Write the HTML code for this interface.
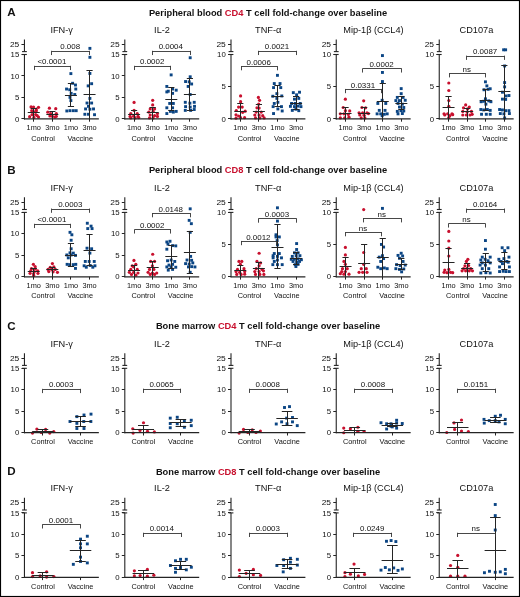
<!DOCTYPE html><html><head><meta charset="utf-8"><style>html,body{margin:0;padding:0;background:#fff;}svg{display:block;will-change:transform;}</style></head><body><svg width="520" height="597" viewBox="0 0 520 597" font-family='"Liberation Sans", sans-serif'>
<rect x="0" y="0" width="520" height="597" fill="#fff"/>
<rect x="0.5" y="0.5" width="519" height="596" fill="none" stroke="#000" stroke-width="1.15"/>
<text x="7.2" y="15.8" font-size="11.6" text-anchor="start" font-weight="bold" fill="#111">A</text>
<text x="268" y="15.5" font-size="9.3" font-weight="bold" text-anchor="middle" fill="#111">Peripheral blood <tspan fill="#c8102e">CD4</tspan> T cell fold-change over baseline</text>
<text x="61.65" y="32.8" font-size="9.2" text-anchor="middle" font-weight="normal" fill="#111">IFN-γ</text>
<line x1="24.45" y1="39.4" x2="24.45" y2="51.6" stroke="#242424" stroke-width="1.1"/>
<line x1="22.05" y1="51.6" x2="26.85" y2="51.6" stroke="#242424" stroke-width="1.1"/>
<line x1="22.05" y1="54.5" x2="26.85" y2="54.5" stroke="#242424" stroke-width="1.1"/>
<line x1="24.45" y1="54.5" x2="24.45" y2="119.4" stroke="#242424" stroke-width="1.1"/>
<line x1="21.45" y1="44.5" x2="24.45" y2="44.5" stroke="#242424" stroke-width="1"/>
<text transform="translate(19.25 47) scale(1.08 1.0)" font-size="7.8" text-anchor="end" font-weight="normal" fill="#111">25</text>
<line x1="21.45" y1="54.5" x2="24.45" y2="54.5" stroke="#242424" stroke-width="1"/>
<text x="19.25" y="57.1" font-size="7.8" text-anchor="end" font-weight="normal" fill="#111">15</text>
<line x1="21.45" y1="75.5" x2="24.45" y2="75.5" stroke="#242424" stroke-width="1"/>
<text x="19.25" y="78.57" font-size="7.8" text-anchor="end" font-weight="normal" fill="#111">10</text>
<line x1="21.45" y1="97.5" x2="24.45" y2="97.5" stroke="#242424" stroke-width="1"/>
<text x="19.25" y="100.03" font-size="7.8" text-anchor="end" font-weight="normal" fill="#111">5</text>
<line x1="21.45" y1="118.5" x2="24.45" y2="118.5" stroke="#242424" stroke-width="1"/>
<text x="19.25" y="121.5" font-size="7.8" text-anchor="end" font-weight="normal" fill="#111">0</text>
<circle cx="31.05" cy="106.93" r="1.6" fill="#c8102e"/>
<circle cx="33.54" cy="107.08" r="1.6" fill="#c8102e"/>
<circle cx="38.52" cy="107.29" r="1.6" fill="#c8102e"/>
<circle cx="36.24" cy="109.07" r="1.6" fill="#c8102e"/>
<circle cx="31.76" cy="110.63" r="1.6" fill="#c8102e"/>
<circle cx="36.38" cy="110.63" r="1.6" fill="#c8102e"/>
<circle cx="33.54" cy="111.7" r="1.6" fill="#c8102e"/>
<circle cx="32.12" cy="114.55" r="1.6" fill="#c8102e"/>
<circle cx="35.67" cy="114.55" r="1.6" fill="#c8102e"/>
<circle cx="29.62" cy="116.68" r="1.6" fill="#c8102e"/>
<circle cx="33.89" cy="117.39" r="1.6" fill="#c8102e"/>
<circle cx="38.52" cy="117.04" r="1.6" fill="#c8102e"/>
<circle cx="37.1" cy="115.62" r="1.6" fill="#c8102e"/>
<circle cx="49.41" cy="108.14" r="1.6" fill="#c8102e"/>
<circle cx="55.74" cy="108.64" r="1.6" fill="#c8102e"/>
<circle cx="47.77" cy="112.2" r="1.6" fill="#c8102e"/>
<circle cx="50.62" cy="113.48" r="1.6" fill="#c8102e"/>
<circle cx="56.31" cy="113.48" r="1.6" fill="#c8102e"/>
<circle cx="49.9" cy="115.97" r="1.6" fill="#c8102e"/>
<circle cx="52.39" cy="116.33" r="1.6" fill="#c8102e"/>
<circle cx="54.88" cy="117.04" r="1.6" fill="#c8102e"/>
<circle cx="56.31" cy="116.33" r="1.6" fill="#c8102e"/>
<rect x="69.42" y="72.16" width="2.9" height="2.9" fill="#0b4584"/>
<rect x="71.15" y="81.82" width="2.9" height="2.9" fill="#0b4584"/>
<rect x="74.03" y="83.55" width="2.9" height="2.9" fill="#0b4584"/>
<rect x="65.09" y="87.59" width="2.9" height="2.9" fill="#0b4584"/>
<rect x="68.26" y="88.31" width="2.9" height="2.9" fill="#0b4584"/>
<rect x="74.32" y="87.59" width="2.9" height="2.9" fill="#0b4584"/>
<rect x="69.7" y="91.92" width="2.9" height="2.9" fill="#0b4584"/>
<rect x="73.31" y="93.07" width="2.9" height="2.9" fill="#0b4584"/>
<rect x="68.55" y="95.95" width="2.9" height="2.9" fill="#0b4584"/>
<rect x="69.42" y="99.13" width="2.9" height="2.9" fill="#0b4584"/>
<rect x="65.38" y="109.51" width="2.9" height="2.9" fill="#0b4584"/>
<rect x="68.55" y="109.22" width="2.9" height="2.9" fill="#0b4584"/>
<rect x="71.87" y="109.22" width="2.9" height="2.9" fill="#0b4584"/>
<rect x="74.75" y="109.22" width="2.9" height="2.9" fill="#0b4584"/>
<rect x="88.45" y="46.92" width="2.9" height="2.9" fill="#0b4584"/>
<rect x="88.45" y="55.86" width="2.9" height="2.9" fill="#0b4584"/>
<rect x="88.45" y="72.01" width="2.9" height="2.9" fill="#0b4584"/>
<rect x="90.18" y="82.25" width="2.9" height="2.9" fill="#0b4584"/>
<rect x="86.72" y="84.42" width="2.9" height="2.9" fill="#0b4584"/>
<rect x="88.45" y="96.96" width="2.9" height="2.9" fill="#0b4584"/>
<rect x="85.57" y="101.58" width="2.9" height="2.9" fill="#0b4584"/>
<rect x="90.18" y="101.58" width="2.9" height="2.9" fill="#0b4584"/>
<rect x="87.01" y="104.9" width="2.9" height="2.9" fill="#0b4584"/>
<rect x="84.13" y="107.49" width="2.9" height="2.9" fill="#0b4584"/>
<rect x="88.45" y="107.78" width="2.9" height="2.9" fill="#0b4584"/>
<rect x="92.06" y="107.49" width="2.9" height="2.9" fill="#0b4584"/>
<rect x="83.41" y="112.83" width="2.9" height="2.9" fill="#0b4584"/>
<rect x="87.01" y="112.83" width="2.9" height="2.9" fill="#0b4584"/>
<rect x="93.07" y="113.26" width="2.9" height="2.9" fill="#0b4584"/>
<line x1="33.5" y1="108.86" x2="33.5" y2="118.9" stroke="#242424" stroke-width="1"/>
<line x1="30.65" y1="108.5" x2="36.85" y2="108.5" stroke="#242424" stroke-width="1"/>
<line x1="27.75" y1="112.5" x2="39.75" y2="112.5" stroke="#242424" stroke-width="1"/>
<line x1="52.5" y1="111.35" x2="52.5" y2="118.9" stroke="#242424" stroke-width="1"/>
<line x1="49.25" y1="111.5" x2="55.45" y2="111.5" stroke="#242424" stroke-width="1"/>
<line x1="46.35" y1="114.5" x2="58.35" y2="114.5" stroke="#242424" stroke-width="1"/>
<line x1="70.5" y1="83.99" x2="70.5" y2="106.63" stroke="#242424" stroke-width="1"/>
<line x1="67.85" y1="83.5" x2="74.05" y2="83.5" stroke="#242424" stroke-width="1"/>
<line x1="67.85" y1="106.5" x2="74.05" y2="106.5" stroke="#242424" stroke-width="1"/>
<line x1="64.95" y1="95.5" x2="76.95" y2="95.5" stroke="#242424" stroke-width="1"/>
<line x1="89.5" y1="70.29" x2="89.5" y2="118.9" stroke="#242424" stroke-width="1"/>
<line x1="86.45" y1="70.5" x2="92.65" y2="70.5" stroke="#242424" stroke-width="1"/>
<line x1="83.55" y1="94.5" x2="95.55" y2="94.5" stroke="#242424" stroke-width="1"/>
<line x1="34.4" y1="66.5" x2="70.5" y2="66.5" stroke="#333" stroke-width="0.9"/>
<line x1="34.5" y1="65.8" x2="34.5" y2="70.05" stroke="#333" stroke-width="0.9"/>
<line x1="70.5" y1="65.8" x2="70.5" y2="70.05" stroke="#333" stroke-width="0.9"/>
<text x="51.9" y="64.35" font-size="7.95" text-anchor="middle" font-weight="normal" fill="#111">&lt;0.0001</text>
<line x1="51.9" y1="51.5" x2="89.6" y2="51.5" stroke="#333" stroke-width="0.9"/>
<line x1="51.5" y1="50.8" x2="51.5" y2="55.05" stroke="#333" stroke-width="0.9"/>
<line x1="89.5" y1="50.8" x2="89.5" y2="55.05" stroke="#333" stroke-width="0.9"/>
<text x="70.2" y="49.35" font-size="7.95" text-anchor="middle" font-weight="normal" fill="#111">0.008</text>
<line x1="23.95" y1="118.9" x2="98.85" y2="118.9" stroke="#242424" stroke-width="1.3"/>
<line x1="33.5" y1="118.9" x2="33.5" y2="121.7" stroke="#242424" stroke-width="1"/>
<line x1="52.5" y1="118.9" x2="52.5" y2="121.7" stroke="#242424" stroke-width="1"/>
<line x1="70.5" y1="118.9" x2="70.5" y2="121.7" stroke="#242424" stroke-width="1"/>
<line x1="89.5" y1="118.9" x2="89.5" y2="121.7" stroke="#242424" stroke-width="1"/>
<text x="33.75" y="130.3" font-size="7.35" text-anchor="middle" font-weight="normal" fill="#111">1mo</text>
<text x="52.35" y="130.3" font-size="7.35" text-anchor="middle" font-weight="normal" fill="#111">3mo</text>
<text x="70.95" y="130.3" font-size="7.35" text-anchor="middle" font-weight="normal" fill="#111">1mo</text>
<text x="89.55" y="130.3" font-size="7.35" text-anchor="middle" font-weight="normal" fill="#111">3mo</text>
<text x="43.05" y="140.5" font-size="7.35" text-anchor="middle" font-weight="normal" fill="#111">Control</text>
<text x="80.25" y="140.5" font-size="7.35" text-anchor="middle" font-weight="normal" fill="#111">Vaccine</text>
<text x="162" y="32.8" font-size="9.2" text-anchor="middle" font-weight="normal" fill="#111">IL-2</text>
<line x1="124.8" y1="39.4" x2="124.8" y2="51.6" stroke="#242424" stroke-width="1.1"/>
<line x1="122.4" y1="51.6" x2="127.2" y2="51.6" stroke="#242424" stroke-width="1.1"/>
<line x1="122.4" y1="54.5" x2="127.2" y2="54.5" stroke="#242424" stroke-width="1.1"/>
<line x1="124.8" y1="54.5" x2="124.8" y2="119.4" stroke="#242424" stroke-width="1.1"/>
<line x1="121.8" y1="44.5" x2="124.8" y2="44.5" stroke="#242424" stroke-width="1"/>
<text transform="translate(119.6 47) scale(1.08 1.0)" font-size="7.8" text-anchor="end" font-weight="normal" fill="#111">25</text>
<line x1="121.8" y1="54.5" x2="124.8" y2="54.5" stroke="#242424" stroke-width="1"/>
<text x="119.6" y="57.1" font-size="7.8" text-anchor="end" font-weight="normal" fill="#111">15</text>
<line x1="121.8" y1="75.5" x2="124.8" y2="75.5" stroke="#242424" stroke-width="1"/>
<text x="119.6" y="78.57" font-size="7.8" text-anchor="end" font-weight="normal" fill="#111">10</text>
<line x1="121.8" y1="97.5" x2="124.8" y2="97.5" stroke="#242424" stroke-width="1"/>
<text x="119.6" y="100.03" font-size="7.8" text-anchor="end" font-weight="normal" fill="#111">5</text>
<line x1="121.8" y1="118.5" x2="124.8" y2="118.5" stroke="#242424" stroke-width="1"/>
<text x="119.6" y="121.5" font-size="7.8" text-anchor="end" font-weight="normal" fill="#111">0</text>
<circle cx="134.09" cy="102.45" r="1.6" fill="#c8102e"/>
<circle cx="134.09" cy="110.38" r="1.6" fill="#c8102e"/>
<circle cx="130.77" cy="113.56" r="1.6" fill="#c8102e"/>
<circle cx="137.26" cy="113.56" r="1.6" fill="#c8102e"/>
<circle cx="130.05" cy="116.44" r="1.6" fill="#c8102e"/>
<circle cx="133.65" cy="116.15" r="1.6" fill="#c8102e"/>
<circle cx="137.98" cy="116.44" r="1.6" fill="#c8102e"/>
<circle cx="130.77" cy="117.88" r="1.6" fill="#c8102e"/>
<circle cx="135.1" cy="117.88" r="1.6" fill="#c8102e"/>
<circle cx="138.7" cy="117.6" r="1.6" fill="#c8102e"/>
<circle cx="152.69" cy="100.29" r="1.6" fill="#c8102e"/>
<circle cx="152.69" cy="104.9" r="1.6" fill="#c8102e"/>
<circle cx="150.24" cy="108.94" r="1.6" fill="#c8102e"/>
<circle cx="154.57" cy="108.94" r="1.6" fill="#c8102e"/>
<circle cx="148.8" cy="112.12" r="1.6" fill="#c8102e"/>
<circle cx="153.12" cy="111.39" r="1.6" fill="#c8102e"/>
<circle cx="157.45" cy="113.56" r="1.6" fill="#c8102e"/>
<circle cx="150.24" cy="115" r="1.6" fill="#c8102e"/>
<circle cx="154.57" cy="115.72" r="1.6" fill="#c8102e"/>
<circle cx="157.45" cy="116.44" r="1.6" fill="#c8102e"/>
<circle cx="149.52" cy="117.88" r="1.6" fill="#c8102e"/>
<circle cx="153.12" cy="117.88" r="1.6" fill="#c8102e"/>
<rect x="169.7" y="73.45" width="2.9" height="2.9" fill="#0b4584"/>
<rect x="165.38" y="84.99" width="2.9" height="2.9" fill="#0b4584"/>
<rect x="166.82" y="89.75" width="2.9" height="2.9" fill="#0b4584"/>
<rect x="171.15" y="87.59" width="2.9" height="2.9" fill="#0b4584"/>
<rect x="174.75" y="88.74" width="2.9" height="2.9" fill="#0b4584"/>
<rect x="165.38" y="90.47" width="2.9" height="2.9" fill="#0b4584"/>
<rect x="171.15" y="91.92" width="2.9" height="2.9" fill="#0b4584"/>
<rect x="168.26" y="102.01" width="2.9" height="2.9" fill="#0b4584"/>
<rect x="171.87" y="102.01" width="2.9" height="2.9" fill="#0b4584"/>
<rect x="165.38" y="106.34" width="2.9" height="2.9" fill="#0b4584"/>
<rect x="171.15" y="106.34" width="2.9" height="2.9" fill="#0b4584"/>
<rect x="165.38" y="112.11" width="2.9" height="2.9" fill="#0b4584"/>
<rect x="168.98" y="109.94" width="2.9" height="2.9" fill="#0b4584"/>
<rect x="171.87" y="110.67" width="2.9" height="2.9" fill="#0b4584"/>
<rect x="174.75" y="109.94" width="2.9" height="2.9" fill="#0b4584"/>
<rect x="188.74" y="56.29" width="2.9" height="2.9" fill="#0b4584"/>
<rect x="188.74" y="75.33" width="2.9" height="2.9" fill="#0b4584"/>
<rect x="184.13" y="80.09" width="2.9" height="2.9" fill="#0b4584"/>
<rect x="187.73" y="80.38" width="2.9" height="2.9" fill="#0b4584"/>
<rect x="190.18" y="82.54" width="2.9" height="2.9" fill="#0b4584"/>
<rect x="186.72" y="84.99" width="2.9" height="2.9" fill="#0b4584"/>
<rect x="188.74" y="93.07" width="2.9" height="2.9" fill="#0b4584"/>
<rect x="183.84" y="100.86" width="2.9" height="2.9" fill="#0b4584"/>
<rect x="188.45" y="101.72" width="2.9" height="2.9" fill="#0b4584"/>
<rect x="192.78" y="100.86" width="2.9" height="2.9" fill="#0b4584"/>
<rect x="184.13" y="105.18" width="2.9" height="2.9" fill="#0b4584"/>
<rect x="188.74" y="105.62" width="2.9" height="2.9" fill="#0b4584"/>
<rect x="193.07" y="104.9" width="2.9" height="2.9" fill="#0b4584"/>
<rect x="183.84" y="108.93" width="2.9" height="2.9" fill="#0b4584"/>
<rect x="189.18" y="108.93" width="2.9" height="2.9" fill="#0b4584"/>
<rect x="192.78" y="108.07" width="2.9" height="2.9" fill="#0b4584"/>
<line x1="134.5" y1="110.1" x2="134.5" y2="118.9" stroke="#242424" stroke-width="1"/>
<line x1="131" y1="110.5" x2="137.2" y2="110.5" stroke="#242424" stroke-width="1"/>
<line x1="128.1" y1="114.5" x2="140.1" y2="114.5" stroke="#242424" stroke-width="1"/>
<line x1="152.5" y1="107.21" x2="152.5" y2="118.9" stroke="#242424" stroke-width="1"/>
<line x1="149.6" y1="107.5" x2="155.8" y2="107.5" stroke="#242424" stroke-width="1"/>
<line x1="146.7" y1="112.5" x2="158.7" y2="112.5" stroke="#242424" stroke-width="1"/>
<line x1="171.5" y1="87.31" x2="171.5" y2="110.96" stroke="#242424" stroke-width="1"/>
<line x1="168.2" y1="87.5" x2="174.4" y2="87.5" stroke="#242424" stroke-width="1"/>
<line x1="168.2" y1="110.5" x2="174.4" y2="110.5" stroke="#242424" stroke-width="1"/>
<line x1="165.3" y1="99.5" x2="177.3" y2="99.5" stroke="#242424" stroke-width="1"/>
<line x1="189.5" y1="78.65" x2="189.5" y2="110.38" stroke="#242424" stroke-width="1"/>
<line x1="186.8" y1="78.5" x2="193" y2="78.5" stroke="#242424" stroke-width="1"/>
<line x1="186.8" y1="110.5" x2="193" y2="110.5" stroke="#242424" stroke-width="1"/>
<line x1="183.9" y1="94.5" x2="195.9" y2="94.5" stroke="#242424" stroke-width="1"/>
<line x1="134.75" y1="66.5" x2="170.8" y2="66.5" stroke="#333" stroke-width="0.9"/>
<line x1="134.5" y1="65.8" x2="134.5" y2="70.05" stroke="#333" stroke-width="0.9"/>
<line x1="170.5" y1="65.8" x2="170.5" y2="70.05" stroke="#333" stroke-width="0.9"/>
<text x="152.22" y="64.35" font-size="7.95" text-anchor="middle" font-weight="normal" fill="#111">0.0002</text>
<line x1="152.25" y1="51.5" x2="190.4" y2="51.5" stroke="#333" stroke-width="0.9"/>
<line x1="152.5" y1="50.8" x2="152.5" y2="55.05" stroke="#333" stroke-width="0.9"/>
<line x1="190.5" y1="50.8" x2="190.5" y2="55.05" stroke="#333" stroke-width="0.9"/>
<text x="170.77" y="49.35" font-size="7.95" text-anchor="middle" font-weight="normal" fill="#111">0.0004</text>
<line x1="124.3" y1="118.9" x2="199.2" y2="118.9" stroke="#242424" stroke-width="1.3"/>
<line x1="134.5" y1="118.9" x2="134.5" y2="121.7" stroke="#242424" stroke-width="1"/>
<line x1="152.5" y1="118.9" x2="152.5" y2="121.7" stroke="#242424" stroke-width="1"/>
<line x1="171.5" y1="118.9" x2="171.5" y2="121.7" stroke="#242424" stroke-width="1"/>
<line x1="189.5" y1="118.9" x2="189.5" y2="121.7" stroke="#242424" stroke-width="1"/>
<text x="134.1" y="130.3" font-size="7.35" text-anchor="middle" font-weight="normal" fill="#111">1mo</text>
<text x="152.7" y="130.3" font-size="7.35" text-anchor="middle" font-weight="normal" fill="#111">3mo</text>
<text x="171.3" y="130.3" font-size="7.35" text-anchor="middle" font-weight="normal" fill="#111">1mo</text>
<text x="189.9" y="130.3" font-size="7.35" text-anchor="middle" font-weight="normal" fill="#111">3mo</text>
<text x="143.4" y="140.5" font-size="7.35" text-anchor="middle" font-weight="normal" fill="#111">Control</text>
<text x="180.6" y="140.5" font-size="7.35" text-anchor="middle" font-weight="normal" fill="#111">Vaccine</text>
<text x="268.2" y="32.8" font-size="9.2" text-anchor="middle" font-weight="normal" fill="#111">TNF-α</text>
<line x1="231" y1="39.4" x2="231" y2="51.6" stroke="#242424" stroke-width="1.1"/>
<line x1="228.6" y1="51.6" x2="233.4" y2="51.6" stroke="#242424" stroke-width="1.1"/>
<line x1="228.6" y1="54.5" x2="233.4" y2="54.5" stroke="#242424" stroke-width="1.1"/>
<line x1="231" y1="54.5" x2="231" y2="119.4" stroke="#242424" stroke-width="1.1"/>
<line x1="228" y1="44.5" x2="231" y2="44.5" stroke="#242424" stroke-width="1"/>
<text transform="translate(225.8 47) scale(1.08 1.0)" font-size="7.8" text-anchor="end" font-weight="normal" fill="#111">25</text>
<line x1="228" y1="54.5" x2="231" y2="54.5" stroke="#242424" stroke-width="1"/>
<text x="225.8" y="57.1" font-size="7.8" text-anchor="end" font-weight="normal" fill="#111">10</text>
<line x1="228" y1="86.5" x2="231" y2="86.5" stroke="#242424" stroke-width="1"/>
<text x="225.8" y="89.3" font-size="7.8" text-anchor="end" font-weight="normal" fill="#111">5</text>
<line x1="228" y1="118.5" x2="231" y2="118.5" stroke="#242424" stroke-width="1"/>
<text x="225.8" y="121.5" font-size="7.8" text-anchor="end" font-weight="normal" fill="#111">0</text>
<circle cx="240.6" cy="95.9" r="1.6" fill="#c8102e"/>
<circle cx="240.6" cy="101.7" r="1.6" fill="#c8102e"/>
<circle cx="238.6" cy="107.1" r="1.6" fill="#c8102e"/>
<circle cx="242.2" cy="107.1" r="1.6" fill="#c8102e"/>
<circle cx="236.3" cy="110.5" r="1.6" fill="#c8102e"/>
<circle cx="245.2" cy="111.2" r="1.6" fill="#c8102e"/>
<circle cx="242.7" cy="112.3" r="1.6" fill="#c8102e"/>
<circle cx="236" cy="114.8" r="1.6" fill="#c8102e"/>
<circle cx="238.6" cy="116" r="1.6" fill="#c8102e"/>
<circle cx="236" cy="118.2" r="1.6" fill="#c8102e"/>
<circle cx="240.6" cy="117.7" r="1.6" fill="#c8102e"/>
<circle cx="244.6" cy="117.7" r="1.6" fill="#c8102e"/>
<circle cx="258.4" cy="97.4" r="1.6" fill="#c8102e"/>
<circle cx="259.56" cy="100.29" r="1.6" fill="#c8102e"/>
<circle cx="258.69" cy="104.18" r="1.6" fill="#c8102e"/>
<circle cx="256.96" cy="107.79" r="1.6" fill="#c8102e"/>
<circle cx="259.12" cy="108.08" r="1.6" fill="#c8102e"/>
<circle cx="256.24" cy="112.12" r="1.6" fill="#c8102e"/>
<circle cx="261.29" cy="112.12" r="1.6" fill="#c8102e"/>
<circle cx="254.8" cy="115" r="1.6" fill="#c8102e"/>
<circle cx="259.12" cy="115" r="1.6" fill="#c8102e"/>
<circle cx="262.73" cy="115.72" r="1.6" fill="#c8102e"/>
<circle cx="255.52" cy="117.88" r="1.6" fill="#c8102e"/>
<circle cx="259.85" cy="117.88" r="1.6" fill="#c8102e"/>
<circle cx="264.17" cy="117.88" r="1.6" fill="#c8102e"/>
<rect x="275.99" y="73.89" width="2.9" height="2.9" fill="#0b4584"/>
<rect x="272.82" y="82.11" width="2.9" height="2.9" fill="#0b4584"/>
<rect x="278.59" y="82.11" width="2.9" height="2.9" fill="#0b4584"/>
<rect x="272.1" y="86.15" width="2.9" height="2.9" fill="#0b4584"/>
<rect x="279.31" y="86.15" width="2.9" height="2.9" fill="#0b4584"/>
<rect x="275.42" y="92.2" width="2.9" height="2.9" fill="#0b4584"/>
<rect x="271.38" y="94.8" width="2.9" height="2.9" fill="#0b4584"/>
<rect x="280.32" y="94.51" width="2.9" height="2.9" fill="#0b4584"/>
<rect x="275.42" y="96.96" width="2.9" height="2.9" fill="#0b4584"/>
<rect x="276.43" y="100.86" width="2.9" height="2.9" fill="#0b4584"/>
<rect x="272.82" y="102.01" width="2.9" height="2.9" fill="#0b4584"/>
<rect x="271.67" y="105.18" width="2.9" height="2.9" fill="#0b4584"/>
<rect x="280.03" y="105.18" width="2.9" height="2.9" fill="#0b4584"/>
<rect x="276.43" y="107.49" width="2.9" height="2.9" fill="#0b4584"/>
<rect x="272.1" y="112.11" width="2.9" height="2.9" fill="#0b4584"/>
<rect x="280.75" y="109.51" width="2.9" height="2.9" fill="#0b4584"/>
<rect x="291.86" y="91.19" width="2.9" height="2.9" fill="#0b4584"/>
<rect x="298.06" y="90.76" width="2.9" height="2.9" fill="#0b4584"/>
<rect x="295.18" y="93.36" width="2.9" height="2.9" fill="#0b4584"/>
<rect x="293.01" y="97.68" width="2.9" height="2.9" fill="#0b4584"/>
<rect x="297.34" y="96.96" width="2.9" height="2.9" fill="#0b4584"/>
<rect x="290.13" y="102.01" width="2.9" height="2.9" fill="#0b4584"/>
<rect x="293.73" y="102.01" width="2.9" height="2.9" fill="#0b4584"/>
<rect x="298.78" y="102.01" width="2.9" height="2.9" fill="#0b4584"/>
<rect x="288.97" y="104.9" width="2.9" height="2.9" fill="#0b4584"/>
<rect x="293.01" y="105.18" width="2.9" height="2.9" fill="#0b4584"/>
<rect x="296.62" y="104.61" width="2.9" height="2.9" fill="#0b4584"/>
<rect x="299.5" y="105.18" width="2.9" height="2.9" fill="#0b4584"/>
<rect x="290.85" y="108.93" width="2.9" height="2.9" fill="#0b4584"/>
<rect x="294.45" y="107.78" width="2.9" height="2.9" fill="#0b4584"/>
<rect x="297.34" y="109.22" width="2.9" height="2.9" fill="#0b4584"/>
<line x1="240.5" y1="103.5" x2="240.5" y2="118.9" stroke="#242424" stroke-width="1"/>
<line x1="237.2" y1="103.5" x2="243.4" y2="103.5" stroke="#242424" stroke-width="1"/>
<line x1="234.3" y1="111.5" x2="246.3" y2="111.5" stroke="#242424" stroke-width="1"/>
<line x1="258.5" y1="104.33" x2="258.5" y2="118.9" stroke="#242424" stroke-width="1"/>
<line x1="255.8" y1="104.5" x2="262" y2="104.5" stroke="#242424" stroke-width="1"/>
<line x1="252.9" y1="111.5" x2="264.9" y2="111.5" stroke="#242424" stroke-width="1"/>
<line x1="277.5" y1="85.43" x2="277.5" y2="106.78" stroke="#242424" stroke-width="1"/>
<line x1="274.4" y1="85.5" x2="280.6" y2="85.5" stroke="#242424" stroke-width="1"/>
<line x1="274.4" y1="106.5" x2="280.6" y2="106.5" stroke="#242424" stroke-width="1"/>
<line x1="271.5" y1="96.5" x2="283.5" y2="96.5" stroke="#242424" stroke-width="1"/>
<line x1="296.5" y1="96.25" x2="296.5" y2="109.52" stroke="#242424" stroke-width="1"/>
<line x1="293" y1="96.5" x2="299.2" y2="96.5" stroke="#242424" stroke-width="1"/>
<line x1="293" y1="109.5" x2="299.2" y2="109.5" stroke="#242424" stroke-width="1"/>
<line x1="290.1" y1="103.5" x2="302.1" y2="103.5" stroke="#242424" stroke-width="1"/>
<line x1="241.25" y1="66.5" x2="277.25" y2="66.5" stroke="#333" stroke-width="0.9"/>
<line x1="241.5" y1="66.05" x2="241.5" y2="70.3" stroke="#333" stroke-width="0.9"/>
<line x1="277.5" y1="66.05" x2="277.5" y2="70.3" stroke="#333" stroke-width="0.9"/>
<text x="258.7" y="64.6" font-size="7.95" text-anchor="middle" font-weight="normal" fill="#111">0.0006</text>
<line x1="258.5" y1="51.5" x2="296.6" y2="51.5" stroke="#333" stroke-width="0.9"/>
<line x1="258.5" y1="50.8" x2="258.5" y2="55.05" stroke="#333" stroke-width="0.9"/>
<line x1="296.5" y1="50.8" x2="296.5" y2="55.05" stroke="#333" stroke-width="0.9"/>
<text x="277" y="49.35" font-size="7.95" text-anchor="middle" font-weight="normal" fill="#111">0.0021</text>
<line x1="230.5" y1="118.9" x2="305.4" y2="118.9" stroke="#242424" stroke-width="1.3"/>
<line x1="240.5" y1="118.9" x2="240.5" y2="121.7" stroke="#242424" stroke-width="1"/>
<line x1="258.5" y1="118.9" x2="258.5" y2="121.7" stroke="#242424" stroke-width="1"/>
<line x1="277.5" y1="118.9" x2="277.5" y2="121.7" stroke="#242424" stroke-width="1"/>
<line x1="296.5" y1="118.9" x2="296.5" y2="121.7" stroke="#242424" stroke-width="1"/>
<text x="240.3" y="130.3" font-size="7.35" text-anchor="middle" font-weight="normal" fill="#111">1mo</text>
<text x="258.9" y="130.3" font-size="7.35" text-anchor="middle" font-weight="normal" fill="#111">3mo</text>
<text x="277.5" y="130.3" font-size="7.35" text-anchor="middle" font-weight="normal" fill="#111">1mo</text>
<text x="296.1" y="130.3" font-size="7.35" text-anchor="middle" font-weight="normal" fill="#111">3mo</text>
<text x="249.6" y="140.5" font-size="7.35" text-anchor="middle" font-weight="normal" fill="#111">Control</text>
<text x="286.8" y="140.5" font-size="7.35" text-anchor="middle" font-weight="normal" fill="#111">Vaccine</text>
<text x="373.45" y="32.8" font-size="9.2" text-anchor="middle" font-weight="normal" fill="#111">Mip-1β (CCL4)</text>
<line x1="336.25" y1="39.4" x2="336.25" y2="51.6" stroke="#242424" stroke-width="1.1"/>
<line x1="333.85" y1="51.6" x2="338.65" y2="51.6" stroke="#242424" stroke-width="1.1"/>
<line x1="333.85" y1="54.5" x2="338.65" y2="54.5" stroke="#242424" stroke-width="1.1"/>
<line x1="336.25" y1="54.5" x2="336.25" y2="119.4" stroke="#242424" stroke-width="1.1"/>
<line x1="333.25" y1="44.5" x2="336.25" y2="44.5" stroke="#242424" stroke-width="1"/>
<text transform="translate(331.05 47) scale(1.08 1.0)" font-size="7.8" text-anchor="end" font-weight="normal" fill="#111">25</text>
<line x1="333.25" y1="54.5" x2="336.25" y2="54.5" stroke="#242424" stroke-width="1"/>
<text x="331.05" y="57.1" font-size="7.8" text-anchor="end" font-weight="normal" fill="#111">10</text>
<line x1="333.25" y1="86.5" x2="336.25" y2="86.5" stroke="#242424" stroke-width="1"/>
<text x="331.05" y="89.3" font-size="7.8" text-anchor="end" font-weight="normal" fill="#111">5</text>
<line x1="333.25" y1="118.5" x2="336.25" y2="118.5" stroke="#242424" stroke-width="1"/>
<text x="331.05" y="121.5" font-size="7.8" text-anchor="end" font-weight="normal" fill="#111">0</text>
<circle cx="345.38" cy="99.13" r="1.6" fill="#c8102e"/>
<circle cx="343.21" cy="107.5" r="1.6" fill="#c8102e"/>
<circle cx="345.38" cy="110.67" r="1.6" fill="#c8102e"/>
<circle cx="349.7" cy="110.96" r="1.6" fill="#c8102e"/>
<circle cx="340.33" cy="113.85" r="1.6" fill="#c8102e"/>
<circle cx="343.93" cy="113.85" r="1.6" fill="#c8102e"/>
<circle cx="348.26" cy="114.28" r="1.6" fill="#c8102e"/>
<circle cx="340.33" cy="117.88" r="1.6" fill="#c8102e"/>
<circle cx="344.65" cy="117.88" r="1.6" fill="#c8102e"/>
<circle cx="348.98" cy="117.16" r="1.6" fill="#c8102e"/>
<circle cx="363.69" cy="100.87" r="1.6" fill="#c8102e"/>
<circle cx="361.96" cy="107.5" r="1.6" fill="#c8102e"/>
<circle cx="365.57" cy="107.79" r="1.6" fill="#c8102e"/>
<circle cx="359.08" cy="112.84" r="1.6" fill="#c8102e"/>
<circle cx="362.68" cy="112.84" r="1.6" fill="#c8102e"/>
<circle cx="367.01" cy="112.84" r="1.6" fill="#c8102e"/>
<circle cx="359.8" cy="115" r="1.6" fill="#c8102e"/>
<circle cx="364.12" cy="115.29" r="1.6" fill="#c8102e"/>
<circle cx="368.45" cy="113.56" r="1.6" fill="#c8102e"/>
<circle cx="361.24" cy="117.88" r="1.6" fill="#c8102e"/>
<circle cx="364.85" cy="117.88" r="1.6" fill="#c8102e"/>
<rect x="380.99" y="54.13" width="2.9" height="2.9" fill="#0b4584"/>
<rect x="380.99" y="71" width="2.9" height="2.9" fill="#0b4584"/>
<rect x="380.99" y="80.09" width="2.9" height="2.9" fill="#0b4584"/>
<rect x="380.7" y="98.84" width="2.9" height="2.9" fill="#0b4584"/>
<rect x="376.38" y="102.01" width="2.9" height="2.9" fill="#0b4584"/>
<rect x="384.31" y="102.01" width="2.9" height="2.9" fill="#0b4584"/>
<rect x="377.82" y="108.93" width="2.9" height="2.9" fill="#0b4584"/>
<rect x="383.59" y="108.93" width="2.9" height="2.9" fill="#0b4584"/>
<rect x="375.66" y="112.4" width="2.9" height="2.9" fill="#0b4584"/>
<rect x="379.26" y="112.4" width="2.9" height="2.9" fill="#0b4584"/>
<rect x="382.87" y="112.83" width="2.9" height="2.9" fill="#0b4584"/>
<rect x="385.75" y="112.4" width="2.9" height="2.9" fill="#0b4584"/>
<rect x="380.7" y="114.27" width="2.9" height="2.9" fill="#0b4584"/>
<rect x="399.74" y="87.16" width="2.9" height="2.9" fill="#0b4584"/>
<rect x="399.74" y="92.2" width="2.9" height="2.9" fill="#0b4584"/>
<rect x="395.85" y="95.95" width="2.9" height="2.9" fill="#0b4584"/>
<rect x="401.62" y="95.95" width="2.9" height="2.9" fill="#0b4584"/>
<rect x="394.41" y="99.13" width="2.9" height="2.9" fill="#0b4584"/>
<rect x="398.01" y="99.13" width="2.9" height="2.9" fill="#0b4584"/>
<rect x="403.78" y="98.84" width="2.9" height="2.9" fill="#0b4584"/>
<rect x="396.57" y="102.01" width="2.9" height="2.9" fill="#0b4584"/>
<rect x="400.9" y="102.73" width="2.9" height="2.9" fill="#0b4584"/>
<rect x="398.01" y="105.62" width="2.9" height="2.9" fill="#0b4584"/>
<rect x="402.34" y="106.05" width="2.9" height="2.9" fill="#0b4584"/>
<rect x="395.85" y="109.94" width="2.9" height="2.9" fill="#0b4584"/>
<rect x="399.45" y="109.22" width="2.9" height="2.9" fill="#0b4584"/>
<rect x="402.34" y="109.51" width="2.9" height="2.9" fill="#0b4584"/>
<rect x="396.57" y="112.4" width="2.9" height="2.9" fill="#0b4584"/>
<rect x="400.9" y="112.11" width="2.9" height="2.9" fill="#0b4584"/>
<line x1="345.5" y1="107.5" x2="345.5" y2="118.9" stroke="#242424" stroke-width="1"/>
<line x1="342.45" y1="107.5" x2="348.65" y2="107.5" stroke="#242424" stroke-width="1"/>
<line x1="339.55" y1="113.5" x2="351.55" y2="113.5" stroke="#242424" stroke-width="1"/>
<line x1="364.5" y1="107.79" x2="364.5" y2="118.9" stroke="#242424" stroke-width="1"/>
<line x1="361.05" y1="107.5" x2="367.25" y2="107.5" stroke="#242424" stroke-width="1"/>
<line x1="358.15" y1="113.5" x2="370.15" y2="113.5" stroke="#242424" stroke-width="1"/>
<line x1="382.5" y1="83.99" x2="382.5" y2="118.9" stroke="#242424" stroke-width="1"/>
<line x1="379.65" y1="83.5" x2="385.85" y2="83.5" stroke="#242424" stroke-width="1"/>
<line x1="376.75" y1="101.5" x2="388.75" y2="101.5" stroke="#242424" stroke-width="1"/>
<line x1="401.5" y1="96.54" x2="401.5" y2="109.95" stroke="#242424" stroke-width="1"/>
<line x1="398.25" y1="96.5" x2="404.45" y2="96.5" stroke="#242424" stroke-width="1"/>
<line x1="398.25" y1="109.5" x2="404.45" y2="109.5" stroke="#242424" stroke-width="1"/>
<line x1="395.35" y1="103.5" x2="407.35" y2="103.5" stroke="#242424" stroke-width="1"/>
<line x1="345.4" y1="89.5" x2="381.6" y2="89.5" stroke="#333" stroke-width="0.9"/>
<line x1="345.5" y1="88.95" x2="345.5" y2="93.2" stroke="#333" stroke-width="0.9"/>
<line x1="381.5" y1="88.95" x2="381.5" y2="93.2" stroke="#333" stroke-width="0.9"/>
<text x="362.95" y="87.5" font-size="7.95" text-anchor="middle" font-weight="normal" fill="#111">0.0331</text>
<line x1="362.9" y1="68.5" x2="401.4" y2="68.5" stroke="#333" stroke-width="0.9"/>
<line x1="362.5" y1="68.3" x2="362.5" y2="72.55" stroke="#333" stroke-width="0.9"/>
<line x1="401.5" y1="68.3" x2="401.5" y2="72.55" stroke="#333" stroke-width="0.9"/>
<text x="381.6" y="66.85" font-size="7.95" text-anchor="middle" font-weight="normal" fill="#111">0.0002</text>
<line x1="335.75" y1="118.9" x2="410.65" y2="118.9" stroke="#242424" stroke-width="1.3"/>
<line x1="345.5" y1="118.9" x2="345.5" y2="121.7" stroke="#242424" stroke-width="1"/>
<line x1="364.5" y1="118.9" x2="364.5" y2="121.7" stroke="#242424" stroke-width="1"/>
<line x1="382.5" y1="118.9" x2="382.5" y2="121.7" stroke="#242424" stroke-width="1"/>
<line x1="401.5" y1="118.9" x2="401.5" y2="121.7" stroke="#242424" stroke-width="1"/>
<text x="345.55" y="130.3" font-size="7.35" text-anchor="middle" font-weight="normal" fill="#111">1mo</text>
<text x="364.15" y="130.3" font-size="7.35" text-anchor="middle" font-weight="normal" fill="#111">3mo</text>
<text x="382.75" y="130.3" font-size="7.35" text-anchor="middle" font-weight="normal" fill="#111">1mo</text>
<text x="401.35" y="130.3" font-size="7.35" text-anchor="middle" font-weight="normal" fill="#111">3mo</text>
<text x="354.85" y="140.5" font-size="7.35" text-anchor="middle" font-weight="normal" fill="#111">Control</text>
<text x="392.05" y="140.5" font-size="7.35" text-anchor="middle" font-weight="normal" fill="#111">Vaccine</text>
<text x="476.45" y="32.8" font-size="9.2" text-anchor="middle" font-weight="normal" fill="#111">CD107a</text>
<line x1="439.25" y1="39.4" x2="439.25" y2="51.6" stroke="#242424" stroke-width="1.1"/>
<line x1="436.85" y1="51.6" x2="441.65" y2="51.6" stroke="#242424" stroke-width="1.1"/>
<line x1="436.85" y1="54.5" x2="441.65" y2="54.5" stroke="#242424" stroke-width="1.1"/>
<line x1="439.25" y1="54.5" x2="439.25" y2="119.4" stroke="#242424" stroke-width="1.1"/>
<line x1="436.25" y1="44.5" x2="439.25" y2="44.5" stroke="#242424" stroke-width="1"/>
<text transform="translate(434.05 47) scale(1.08 1.0)" font-size="7.8" text-anchor="end" font-weight="normal" fill="#111">25</text>
<line x1="436.25" y1="54.5" x2="439.25" y2="54.5" stroke="#242424" stroke-width="1"/>
<text x="434.05" y="57.1" font-size="7.8" text-anchor="end" font-weight="normal" fill="#111">10</text>
<line x1="436.25" y1="86.5" x2="439.25" y2="86.5" stroke="#242424" stroke-width="1"/>
<text x="434.05" y="89.3" font-size="7.8" text-anchor="end" font-weight="normal" fill="#111">5</text>
<line x1="436.25" y1="118.5" x2="439.25" y2="118.5" stroke="#242424" stroke-width="1"/>
<text x="434.05" y="121.5" font-size="7.8" text-anchor="end" font-weight="normal" fill="#111">0</text>
<circle cx="448.81" cy="82.98" r="1.6" fill="#c8102e"/>
<circle cx="448.81" cy="90.48" r="1.6" fill="#c8102e"/>
<circle cx="448.81" cy="100.58" r="1.6" fill="#c8102e"/>
<circle cx="448.81" cy="106.35" r="1.6" fill="#c8102e"/>
<circle cx="444.05" cy="113.85" r="1.6" fill="#c8102e"/>
<circle cx="447.65" cy="113.85" r="1.6" fill="#c8102e"/>
<circle cx="451.98" cy="113.85" r="1.6" fill="#c8102e"/>
<circle cx="444.77" cy="115" r="1.6" fill="#c8102e"/>
<circle cx="449.82" cy="115.72" r="1.6" fill="#c8102e"/>
<circle cx="452.7" cy="114.71" r="1.6" fill="#c8102e"/>
<circle cx="448.81" cy="117.6" r="1.6" fill="#c8102e"/>
<circle cx="465.68" cy="104.9" r="1.6" fill="#c8102e"/>
<circle cx="469.29" cy="107.07" r="1.6" fill="#c8102e"/>
<circle cx="463.52" cy="107.79" r="1.6" fill="#c8102e"/>
<circle cx="467.56" cy="108.94" r="1.6" fill="#c8102e"/>
<circle cx="462.8" cy="111.39" r="1.6" fill="#c8102e"/>
<circle cx="467.12" cy="112.12" r="1.6" fill="#c8102e"/>
<circle cx="471.45" cy="111.39" r="1.6" fill="#c8102e"/>
<circle cx="462.8" cy="115" r="1.6" fill="#c8102e"/>
<circle cx="466.4" cy="115" r="1.6" fill="#c8102e"/>
<circle cx="470.01" cy="115" r="1.6" fill="#c8102e"/>
<circle cx="472.17" cy="114.28" r="1.6" fill="#c8102e"/>
<rect x="483.99" y="80.38" width="2.9" height="2.9" fill="#0b4584"/>
<rect x="485.43" y="84.42" width="2.9" height="2.9" fill="#0b4584"/>
<rect x="482.55" y="88.31" width="2.9" height="2.9" fill="#0b4584"/>
<rect x="486.59" y="87.88" width="2.9" height="2.9" fill="#0b4584"/>
<rect x="488.75" y="87.3" width="2.9" height="2.9" fill="#0b4584"/>
<rect x="483.99" y="97.4" width="2.9" height="2.9" fill="#0b4584"/>
<rect x="479.67" y="100.28" width="2.9" height="2.9" fill="#0b4584"/>
<rect x="482.26" y="99.85" width="2.9" height="2.9" fill="#0b4584"/>
<rect x="487.31" y="99.42" width="2.9" height="2.9" fill="#0b4584"/>
<rect x="489.47" y="100.28" width="2.9" height="2.9" fill="#0b4584"/>
<rect x="484.43" y="102.73" width="2.9" height="2.9" fill="#0b4584"/>
<rect x="479.38" y="108.07" width="2.9" height="2.9" fill="#0b4584"/>
<rect x="482.26" y="108.5" width="2.9" height="2.9" fill="#0b4584"/>
<rect x="485.87" y="108.07" width="2.9" height="2.9" fill="#0b4584"/>
<rect x="488.75" y="108.93" width="2.9" height="2.9" fill="#0b4584"/>
<rect x="480.1" y="112.83" width="2.9" height="2.9" fill="#0b4584"/>
<rect x="484.86" y="112.83" width="2.9" height="2.9" fill="#0b4584"/>
<rect x="488.75" y="112.83" width="2.9" height="2.9" fill="#0b4584"/>
<rect x="502.17" y="48.36" width="2.9" height="2.9" fill="#0b4584"/>
<rect x="504.18" y="48.36" width="2.9" height="2.9" fill="#0b4584"/>
<rect x="503.18" y="64.51" width="2.9" height="2.9" fill="#0b4584"/>
<rect x="503.18" y="81.1" width="2.9" height="2.9" fill="#0b4584"/>
<rect x="503.18" y="85.42" width="2.9" height="2.9" fill="#0b4584"/>
<rect x="501.01" y="90.76" width="2.9" height="2.9" fill="#0b4584"/>
<rect x="507.5" y="94.08" width="2.9" height="2.9" fill="#0b4584"/>
<rect x="504.62" y="94.51" width="2.9" height="2.9" fill="#0b4584"/>
<rect x="501.01" y="97.68" width="2.9" height="2.9" fill="#0b4584"/>
<rect x="504.18" y="97.97" width="2.9" height="2.9" fill="#0b4584"/>
<rect x="498.13" y="108.07" width="2.9" height="2.9" fill="#0b4584"/>
<rect x="501.01" y="108.5" width="2.9" height="2.9" fill="#0b4584"/>
<rect x="504.18" y="109.22" width="2.9" height="2.9" fill="#0b4584"/>
<rect x="507.5" y="109.22" width="2.9" height="2.9" fill="#0b4584"/>
<rect x="498.85" y="112.11" width="2.9" height="2.9" fill="#0b4584"/>
<rect x="502.45" y="112.4" width="2.9" height="2.9" fill="#0b4584"/>
<rect x="507.93" y="112.11" width="2.9" height="2.9" fill="#0b4584"/>
<rect x="503.18" y="116.43" width="2.9" height="2.9" fill="#0b4584"/>
<line x1="448.5" y1="96.54" x2="448.5" y2="118.9" stroke="#242424" stroke-width="1"/>
<line x1="445.45" y1="96.5" x2="451.65" y2="96.5" stroke="#242424" stroke-width="1"/>
<line x1="442.55" y1="107.5" x2="454.55" y2="107.5" stroke="#242424" stroke-width="1"/>
<line x1="467.5" y1="108.94" x2="467.5" y2="118.9" stroke="#242424" stroke-width="1"/>
<line x1="464.05" y1="108.5" x2="470.25" y2="108.5" stroke="#242424" stroke-width="1"/>
<line x1="461.15" y1="111.5" x2="473.15" y2="111.5" stroke="#242424" stroke-width="1"/>
<line x1="485.5" y1="89.76" x2="485.5" y2="110.96" stroke="#242424" stroke-width="1"/>
<line x1="482.65" y1="89.5" x2="488.85" y2="89.5" stroke="#242424" stroke-width="1"/>
<line x1="482.65" y1="110.5" x2="488.85" y2="110.5" stroke="#242424" stroke-width="1"/>
<line x1="479.75" y1="100.5" x2="491.75" y2="100.5" stroke="#242424" stroke-width="1"/>
<line x1="504.5" y1="65.67" x2="504.5" y2="118.9" stroke="#242424" stroke-width="1"/>
<line x1="501.25" y1="65.5" x2="507.45" y2="65.5" stroke="#242424" stroke-width="1"/>
<line x1="498.35" y1="91.5" x2="510.35" y2="91.5" stroke="#242424" stroke-width="1"/>
<line x1="449.25" y1="73.5" x2="485.5" y2="73.5" stroke="#333" stroke-width="0.9"/>
<line x1="449.5" y1="73.15" x2="449.5" y2="77.4" stroke="#333" stroke-width="0.9"/>
<line x1="485.5" y1="73.15" x2="485.5" y2="77.4" stroke="#333" stroke-width="0.9"/>
<text x="466.82" y="71.7" font-size="7.95" text-anchor="middle" font-weight="normal" fill="#111">ns</text>
<line x1="466.75" y1="56.5" x2="504.6" y2="56.5" stroke="#333" stroke-width="0.9"/>
<line x1="466.5" y1="55.65" x2="466.5" y2="59.9" stroke="#333" stroke-width="0.9"/>
<line x1="504.5" y1="55.65" x2="504.5" y2="59.9" stroke="#333" stroke-width="0.9"/>
<text x="485.12" y="54.2" font-size="7.95" text-anchor="middle" font-weight="normal" fill="#111">0.0087</text>
<line x1="438.75" y1="118.9" x2="513.65" y2="118.9" stroke="#242424" stroke-width="1.3"/>
<line x1="448.5" y1="118.9" x2="448.5" y2="121.7" stroke="#242424" stroke-width="1"/>
<line x1="467.5" y1="118.9" x2="467.5" y2="121.7" stroke="#242424" stroke-width="1"/>
<line x1="485.5" y1="118.9" x2="485.5" y2="121.7" stroke="#242424" stroke-width="1"/>
<line x1="504.5" y1="118.9" x2="504.5" y2="121.7" stroke="#242424" stroke-width="1"/>
<text x="448.55" y="130.3" font-size="7.35" text-anchor="middle" font-weight="normal" fill="#111">1mo</text>
<text x="467.15" y="130.3" font-size="7.35" text-anchor="middle" font-weight="normal" fill="#111">3mo</text>
<text x="485.75" y="130.3" font-size="7.35" text-anchor="middle" font-weight="normal" fill="#111">1mo</text>
<text x="504.35" y="130.3" font-size="7.35" text-anchor="middle" font-weight="normal" fill="#111">3mo</text>
<text x="457.85" y="140.5" font-size="7.35" text-anchor="middle" font-weight="normal" fill="#111">Control</text>
<text x="495.05" y="140.5" font-size="7.35" text-anchor="middle" font-weight="normal" fill="#111">Vaccine</text>
<text x="7.2" y="173.7" font-size="11.6" text-anchor="start" font-weight="bold" fill="#111">B</text>
<text x="268" y="173.4" font-size="9.3" font-weight="bold" text-anchor="middle" fill="#111">Peripheral blood <tspan fill="#c8102e">CD8</tspan> T cell fold-change over baseline</text>
<text x="61.65" y="190.7" font-size="9.2" text-anchor="middle" font-weight="normal" fill="#111">IFN-γ</text>
<line x1="24.45" y1="197.3" x2="24.45" y2="209.5" stroke="#242424" stroke-width="1.1"/>
<line x1="22.05" y1="209.5" x2="26.85" y2="209.5" stroke="#242424" stroke-width="1.1"/>
<line x1="22.05" y1="212.4" x2="26.85" y2="212.4" stroke="#242424" stroke-width="1.1"/>
<line x1="24.45" y1="212.4" x2="24.45" y2="277.3" stroke="#242424" stroke-width="1.1"/>
<line x1="21.45" y1="202.5" x2="24.45" y2="202.5" stroke="#242424" stroke-width="1"/>
<text transform="translate(19.25 204.9) scale(1.08 1.0)" font-size="7.8" text-anchor="end" font-weight="normal" fill="#111">25</text>
<line x1="21.45" y1="212.5" x2="24.45" y2="212.5" stroke="#242424" stroke-width="1"/>
<text x="19.25" y="215" font-size="7.8" text-anchor="end" font-weight="normal" fill="#111">15</text>
<line x1="21.45" y1="233.5" x2="24.45" y2="233.5" stroke="#242424" stroke-width="1"/>
<text x="19.25" y="236.47" font-size="7.8" text-anchor="end" font-weight="normal" fill="#111">10</text>
<line x1="21.45" y1="255.5" x2="24.45" y2="255.5" stroke="#242424" stroke-width="1"/>
<text x="19.25" y="257.93" font-size="7.8" text-anchor="end" font-weight="normal" fill="#111">5</text>
<line x1="21.45" y1="276.5" x2="24.45" y2="276.5" stroke="#242424" stroke-width="1"/>
<text x="19.25" y="279.4" font-size="7.8" text-anchor="end" font-weight="normal" fill="#111">0</text>
<circle cx="33.37" cy="264.35" r="1.6" fill="#c8102e"/>
<circle cx="35.1" cy="266.51" r="1.6" fill="#c8102e"/>
<circle cx="31.49" cy="268.67" r="1.6" fill="#c8102e"/>
<circle cx="35.38" cy="268.67" r="1.6" fill="#c8102e"/>
<circle cx="30.77" cy="270.84" r="1.6" fill="#c8102e"/>
<circle cx="34.38" cy="271.56" r="1.6" fill="#c8102e"/>
<circle cx="37.69" cy="270.84" r="1.6" fill="#c8102e"/>
<circle cx="30.05" cy="273.29" r="1.6" fill="#c8102e"/>
<circle cx="33.65" cy="273.72" r="1.6" fill="#c8102e"/>
<circle cx="37.98" cy="273.29" r="1.6" fill="#c8102e"/>
<circle cx="33.65" cy="275.6" r="1.6" fill="#c8102e"/>
<circle cx="52.4" cy="263.62" r="1.6" fill="#c8102e"/>
<circle cx="50.24" cy="267.23" r="1.6" fill="#c8102e"/>
<circle cx="53.85" cy="266.94" r="1.6" fill="#c8102e"/>
<circle cx="48.08" cy="269.39" r="1.6" fill="#c8102e"/>
<circle cx="51.68" cy="269.39" r="1.6" fill="#c8102e"/>
<circle cx="55.29" cy="269.39" r="1.6" fill="#c8102e"/>
<circle cx="48.8" cy="271.56" r="1.6" fill="#c8102e"/>
<circle cx="53.12" cy="271.85" r="1.6" fill="#c8102e"/>
<circle cx="57.45" cy="272.28" r="1.6" fill="#c8102e"/>
<rect x="68.55" y="230.88" width="2.9" height="2.9" fill="#0b4584"/>
<rect x="70.42" y="233.33" width="2.9" height="2.9" fill="#0b4584"/>
<rect x="69.7" y="238.81" width="2.9" height="2.9" fill="#0b4584"/>
<rect x="69.7" y="247.32" width="2.9" height="2.9" fill="#0b4584"/>
<rect x="68.55" y="251.36" width="2.9" height="2.9" fill="#0b4584"/>
<rect x="71.87" y="251.65" width="2.9" height="2.9" fill="#0b4584"/>
<rect x="65.38" y="253.52" width="2.9" height="2.9" fill="#0b4584"/>
<rect x="69.7" y="253.52" width="2.9" height="2.9" fill="#0b4584"/>
<rect x="74.03" y="253.95" width="2.9" height="2.9" fill="#0b4584"/>
<rect x="66.82" y="256.41" width="2.9" height="2.9" fill="#0b4584"/>
<rect x="65.67" y="262.9" width="2.9" height="2.9" fill="#0b4584"/>
<rect x="68.26" y="263.18" width="2.9" height="2.9" fill="#0b4584"/>
<rect x="71.87" y="263.18" width="2.9" height="2.9" fill="#0b4584"/>
<rect x="74.32" y="262.9" width="2.9" height="2.9" fill="#0b4584"/>
<rect x="74.03" y="266.93" width="2.9" height="2.9" fill="#0b4584"/>
<rect x="85.86" y="221.79" width="2.9" height="2.9" fill="#0b4584"/>
<rect x="89.61" y="224.68" width="2.9" height="2.9" fill="#0b4584"/>
<rect x="86.29" y="227.13" width="2.9" height="2.9" fill="#0b4584"/>
<rect x="90.62" y="227.13" width="2.9" height="2.9" fill="#0b4584"/>
<rect x="85.57" y="246.74" width="2.9" height="2.9" fill="#0b4584"/>
<rect x="90.18" y="247.32" width="2.9" height="2.9" fill="#0b4584"/>
<rect x="88.45" y="251.65" width="2.9" height="2.9" fill="#0b4584"/>
<rect x="83.84" y="260.01" width="2.9" height="2.9" fill="#0b4584"/>
<rect x="87.73" y="260.01" width="2.9" height="2.9" fill="#0b4584"/>
<rect x="92.78" y="260.01" width="2.9" height="2.9" fill="#0b4584"/>
<rect x="82.68" y="264.34" width="2.9" height="2.9" fill="#0b4584"/>
<rect x="88.74" y="264.05" width="2.9" height="2.9" fill="#0b4584"/>
<rect x="93.5" y="264.34" width="2.9" height="2.9" fill="#0b4584"/>
<rect x="84.85" y="265.78" width="2.9" height="2.9" fill="#0b4584"/>
<rect x="91.34" y="265.78" width="2.9" height="2.9" fill="#0b4584"/>
<line x1="33.5" y1="268.1" x2="33.5" y2="276.8" stroke="#242424" stroke-width="1"/>
<line x1="30.65" y1="268.5" x2="36.85" y2="268.5" stroke="#242424" stroke-width="1"/>
<line x1="27.75" y1="271.5" x2="39.75" y2="271.5" stroke="#242424" stroke-width="1"/>
<line x1="52.5" y1="267.66" x2="52.5" y2="276.8" stroke="#242424" stroke-width="1"/>
<line x1="49.25" y1="267.5" x2="55.45" y2="267.5" stroke="#242424" stroke-width="1"/>
<line x1="46.35" y1="269.5" x2="58.35" y2="269.5" stroke="#242424" stroke-width="1"/>
<line x1="70.5" y1="243.58" x2="70.5" y2="266.8" stroke="#242424" stroke-width="1"/>
<line x1="67.85" y1="243.5" x2="74.05" y2="243.5" stroke="#242424" stroke-width="1"/>
<line x1="67.85" y1="266.5" x2="74.05" y2="266.5" stroke="#242424" stroke-width="1"/>
<line x1="64.95" y1="255.5" x2="76.95" y2="255.5" stroke="#242424" stroke-width="1"/>
<line x1="89.5" y1="234.35" x2="89.5" y2="265.79" stroke="#242424" stroke-width="1"/>
<line x1="86.45" y1="234.5" x2="92.65" y2="234.5" stroke="#242424" stroke-width="1"/>
<line x1="86.45" y1="265.5" x2="92.65" y2="265.5" stroke="#242424" stroke-width="1"/>
<line x1="83.55" y1="250.5" x2="95.55" y2="250.5" stroke="#242424" stroke-width="1"/>
<line x1="34.4" y1="224.5" x2="70.5" y2="224.5" stroke="#333" stroke-width="0.9"/>
<line x1="34.5" y1="223.8" x2="34.5" y2="228.05" stroke="#333" stroke-width="0.9"/>
<line x1="70.5" y1="223.8" x2="70.5" y2="228.05" stroke="#333" stroke-width="0.9"/>
<text x="51.9" y="222.35" font-size="7.95" text-anchor="middle" font-weight="normal" fill="#111">&lt;0.0001</text>
<line x1="51.9" y1="209.5" x2="89.75" y2="209.5" stroke="#333" stroke-width="0.9"/>
<line x1="51.5" y1="208.55" x2="51.5" y2="212.8" stroke="#333" stroke-width="0.9"/>
<line x1="89.5" y1="208.55" x2="89.5" y2="212.8" stroke="#333" stroke-width="0.9"/>
<text x="70.28" y="207.1" font-size="7.95" text-anchor="middle" font-weight="normal" fill="#111">0.0003</text>
<line x1="23.95" y1="276.8" x2="98.85" y2="276.8" stroke="#242424" stroke-width="1.3"/>
<line x1="33.5" y1="276.8" x2="33.5" y2="279.6" stroke="#242424" stroke-width="1"/>
<line x1="52.5" y1="276.8" x2="52.5" y2="279.6" stroke="#242424" stroke-width="1"/>
<line x1="70.5" y1="276.8" x2="70.5" y2="279.6" stroke="#242424" stroke-width="1"/>
<line x1="89.5" y1="276.8" x2="89.5" y2="279.6" stroke="#242424" stroke-width="1"/>
<text x="33.75" y="288.2" font-size="7.35" text-anchor="middle" font-weight="normal" fill="#111">1mo</text>
<text x="52.35" y="288.2" font-size="7.35" text-anchor="middle" font-weight="normal" fill="#111">3mo</text>
<text x="70.95" y="288.2" font-size="7.35" text-anchor="middle" font-weight="normal" fill="#111">1mo</text>
<text x="89.55" y="288.2" font-size="7.35" text-anchor="middle" font-weight="normal" fill="#111">3mo</text>
<text x="43.05" y="298.4" font-size="7.35" text-anchor="middle" font-weight="normal" fill="#111">Control</text>
<text x="80.25" y="298.4" font-size="7.35" text-anchor="middle" font-weight="normal" fill="#111">Vaccine</text>
<text x="162" y="190.7" font-size="9.2" text-anchor="middle" font-weight="normal" fill="#111">IL-2</text>
<line x1="124.8" y1="197.3" x2="124.8" y2="209.5" stroke="#242424" stroke-width="1.1"/>
<line x1="122.4" y1="209.5" x2="127.2" y2="209.5" stroke="#242424" stroke-width="1.1"/>
<line x1="122.4" y1="212.4" x2="127.2" y2="212.4" stroke="#242424" stroke-width="1.1"/>
<line x1="124.8" y1="212.4" x2="124.8" y2="277.3" stroke="#242424" stroke-width="1.1"/>
<line x1="121.8" y1="202.5" x2="124.8" y2="202.5" stroke="#242424" stroke-width="1"/>
<text transform="translate(119.6 204.9) scale(1.08 1.0)" font-size="7.8" text-anchor="end" font-weight="normal" fill="#111">25</text>
<line x1="121.8" y1="212.5" x2="124.8" y2="212.5" stroke="#242424" stroke-width="1"/>
<text x="119.6" y="215" font-size="7.8" text-anchor="end" font-weight="normal" fill="#111">15</text>
<line x1="121.8" y1="233.5" x2="124.8" y2="233.5" stroke="#242424" stroke-width="1"/>
<text x="119.6" y="236.47" font-size="7.8" text-anchor="end" font-weight="normal" fill="#111">10</text>
<line x1="121.8" y1="255.5" x2="124.8" y2="255.5" stroke="#242424" stroke-width="1"/>
<text x="119.6" y="257.93" font-size="7.8" text-anchor="end" font-weight="normal" fill="#111">5</text>
<line x1="121.8" y1="276.5" x2="124.8" y2="276.5" stroke="#242424" stroke-width="1"/>
<text x="119.6" y="279.4" font-size="7.8" text-anchor="end" font-weight="normal" fill="#111">0</text>
<circle cx="133.94" cy="260.45" r="1.6" fill="#c8102e"/>
<circle cx="135.82" cy="264.35" r="1.6" fill="#c8102e"/>
<circle cx="132.21" cy="265.79" r="1.6" fill="#c8102e"/>
<circle cx="133.65" cy="266.94" r="1.6" fill="#c8102e"/>
<circle cx="130.77" cy="269.39" r="1.6" fill="#c8102e"/>
<circle cx="137.26" cy="269.39" r="1.6" fill="#c8102e"/>
<circle cx="129.33" cy="272.28" r="1.6" fill="#c8102e"/>
<circle cx="133.65" cy="272.28" r="1.6" fill="#c8102e"/>
<circle cx="137.98" cy="273" r="1.6" fill="#c8102e"/>
<circle cx="131.49" cy="274.44" r="1.6" fill="#c8102e"/>
<circle cx="135.82" cy="275.16" r="1.6" fill="#c8102e"/>
<circle cx="152.69" cy="254.25" r="1.6" fill="#c8102e"/>
<circle cx="150.67" cy="261.46" r="1.6" fill="#c8102e"/>
<circle cx="154.57" cy="261.46" r="1.6" fill="#c8102e"/>
<circle cx="152.4" cy="265.79" r="1.6" fill="#c8102e"/>
<circle cx="149.52" cy="269.39" r="1.6" fill="#c8102e"/>
<circle cx="153.85" cy="269.39" r="1.6" fill="#c8102e"/>
<circle cx="148.08" cy="272.28" r="1.6" fill="#c8102e"/>
<circle cx="152.4" cy="273" r="1.6" fill="#c8102e"/>
<circle cx="156.73" cy="273" r="1.6" fill="#c8102e"/>
<circle cx="150.24" cy="274.44" r="1.6" fill="#c8102e"/>
<circle cx="154.57" cy="274.44" r="1.6" fill="#c8102e"/>
<rect x="165.38" y="240.54" width="2.9" height="2.9" fill="#0b4584"/>
<rect x="168.55" y="239.82" width="2.9" height="2.9" fill="#0b4584"/>
<rect x="166.53" y="242.7" width="2.9" height="2.9" fill="#0b4584"/>
<rect x="171.15" y="244.15" width="2.9" height="2.9" fill="#0b4584"/>
<rect x="174.32" y="244.43" width="2.9" height="2.9" fill="#0b4584"/>
<rect x="165.38" y="247.75" width="2.9" height="2.9" fill="#0b4584"/>
<rect x="169.7" y="258.57" width="2.9" height="2.9" fill="#0b4584"/>
<rect x="166.1" y="259.29" width="2.9" height="2.9" fill="#0b4584"/>
<rect x="173.31" y="260.01" width="2.9" height="2.9" fill="#0b4584"/>
<rect x="171.15" y="262.9" width="2.9" height="2.9" fill="#0b4584"/>
<rect x="167.54" y="263.62" width="2.9" height="2.9" fill="#0b4584"/>
<rect x="165.38" y="265.49" width="2.9" height="2.9" fill="#0b4584"/>
<rect x="169.7" y="265.49" width="2.9" height="2.9" fill="#0b4584"/>
<rect x="174.32" y="265.78" width="2.9" height="2.9" fill="#0b4584"/>
<rect x="166.82" y="268.67" width="2.9" height="2.9" fill="#0b4584"/>
<rect x="171.15" y="267.94" width="2.9" height="2.9" fill="#0b4584"/>
<rect x="188.74" y="207.37" width="2.9" height="2.9" fill="#0b4584"/>
<rect x="187.73" y="218.91" width="2.9" height="2.9" fill="#0b4584"/>
<rect x="189.9" y="222.22" width="2.9" height="2.9" fill="#0b4584"/>
<rect x="188.74" y="230.88" width="2.9" height="2.9" fill="#0b4584"/>
<rect x="189.18" y="254.96" width="2.9" height="2.9" fill="#0b4584"/>
<rect x="185.57" y="258.57" width="2.9" height="2.9" fill="#0b4584"/>
<rect x="190.18" y="258.86" width="2.9" height="2.9" fill="#0b4584"/>
<rect x="184.13" y="262.18" width="2.9" height="2.9" fill="#0b4584"/>
<rect x="187.73" y="262.61" width="2.9" height="2.9" fill="#0b4584"/>
<rect x="191.34" y="261.45" width="2.9" height="2.9" fill="#0b4584"/>
<rect x="187.01" y="265.49" width="2.9" height="2.9" fill="#0b4584"/>
<rect x="190.18" y="265.2" width="2.9" height="2.9" fill="#0b4584"/>
<rect x="193.5" y="265.49" width="2.9" height="2.9" fill="#0b4584"/>
<rect x="188.74" y="270.83" width="2.9" height="2.9" fill="#0b4584"/>
<line x1="134.5" y1="265.79" x2="134.5" y2="276.8" stroke="#242424" stroke-width="1"/>
<line x1="131" y1="265.5" x2="137.2" y2="265.5" stroke="#242424" stroke-width="1"/>
<line x1="128.1" y1="270.5" x2="140.1" y2="270.5" stroke="#242424" stroke-width="1"/>
<line x1="152.5" y1="261.46" x2="152.5" y2="276.8" stroke="#242424" stroke-width="1"/>
<line x1="149.6" y1="261.5" x2="155.8" y2="261.5" stroke="#242424" stroke-width="1"/>
<line x1="146.7" y1="267.5" x2="158.7" y2="267.5" stroke="#242424" stroke-width="1"/>
<line x1="171.5" y1="245.31" x2="171.5" y2="268.38" stroke="#242424" stroke-width="1"/>
<line x1="168.2" y1="245.5" x2="174.4" y2="245.5" stroke="#242424" stroke-width="1"/>
<line x1="168.2" y1="268.5" x2="174.4" y2="268.5" stroke="#242424" stroke-width="1"/>
<line x1="165.3" y1="256.5" x2="177.3" y2="256.5" stroke="#242424" stroke-width="1"/>
<line x1="189.5" y1="231.89" x2="189.5" y2="273.29" stroke="#242424" stroke-width="1"/>
<line x1="186.8" y1="231.5" x2="193" y2="231.5" stroke="#242424" stroke-width="1"/>
<line x1="186.8" y1="273.5" x2="193" y2="273.5" stroke="#242424" stroke-width="1"/>
<line x1="183.9" y1="252.5" x2="195.9" y2="252.5" stroke="#242424" stroke-width="1"/>
<line x1="134.75" y1="229.5" x2="170.8" y2="229.5" stroke="#333" stroke-width="0.9"/>
<line x1="134.5" y1="229.3" x2="134.5" y2="233.55" stroke="#333" stroke-width="0.9"/>
<line x1="170.5" y1="229.3" x2="170.5" y2="233.55" stroke="#333" stroke-width="0.9"/>
<text x="152.22" y="227.85" font-size="7.95" text-anchor="middle" font-weight="normal" fill="#111">0.0002</text>
<line x1="152.25" y1="213.5" x2="190.2" y2="213.5" stroke="#333" stroke-width="0.9"/>
<line x1="152.5" y1="213.05" x2="152.5" y2="217.3" stroke="#333" stroke-width="0.9"/>
<line x1="190.5" y1="213.05" x2="190.5" y2="217.3" stroke="#333" stroke-width="0.9"/>
<text x="170.67" y="211.6" font-size="7.95" text-anchor="middle" font-weight="normal" fill="#111">0.0148</text>
<line x1="124.3" y1="276.8" x2="199.2" y2="276.8" stroke="#242424" stroke-width="1.3"/>
<line x1="134.5" y1="276.8" x2="134.5" y2="279.6" stroke="#242424" stroke-width="1"/>
<line x1="152.5" y1="276.8" x2="152.5" y2="279.6" stroke="#242424" stroke-width="1"/>
<line x1="171.5" y1="276.8" x2="171.5" y2="279.6" stroke="#242424" stroke-width="1"/>
<line x1="189.5" y1="276.8" x2="189.5" y2="279.6" stroke="#242424" stroke-width="1"/>
<text x="134.1" y="288.2" font-size="7.35" text-anchor="middle" font-weight="normal" fill="#111">1mo</text>
<text x="152.7" y="288.2" font-size="7.35" text-anchor="middle" font-weight="normal" fill="#111">3mo</text>
<text x="171.3" y="288.2" font-size="7.35" text-anchor="middle" font-weight="normal" fill="#111">1mo</text>
<text x="189.9" y="288.2" font-size="7.35" text-anchor="middle" font-weight="normal" fill="#111">3mo</text>
<text x="143.4" y="298.4" font-size="7.35" text-anchor="middle" font-weight="normal" fill="#111">Control</text>
<text x="180.6" y="298.4" font-size="7.35" text-anchor="middle" font-weight="normal" fill="#111">Vaccine</text>
<text x="268.2" y="190.7" font-size="9.2" text-anchor="middle" font-weight="normal" fill="#111">TNF-α</text>
<line x1="231" y1="197.3" x2="231" y2="209.5" stroke="#242424" stroke-width="1.1"/>
<line x1="228.6" y1="209.5" x2="233.4" y2="209.5" stroke="#242424" stroke-width="1.1"/>
<line x1="228.6" y1="212.4" x2="233.4" y2="212.4" stroke="#242424" stroke-width="1.1"/>
<line x1="231" y1="212.4" x2="231" y2="277.3" stroke="#242424" stroke-width="1.1"/>
<line x1="228" y1="202.5" x2="231" y2="202.5" stroke="#242424" stroke-width="1"/>
<text transform="translate(225.8 204.9) scale(1.08 1.0)" font-size="7.8" text-anchor="end" font-weight="normal" fill="#111">25</text>
<line x1="228" y1="212.5" x2="231" y2="212.5" stroke="#242424" stroke-width="1"/>
<text x="225.8" y="215" font-size="7.8" text-anchor="end" font-weight="normal" fill="#111">10</text>
<line x1="228" y1="244.5" x2="231" y2="244.5" stroke="#242424" stroke-width="1"/>
<text x="225.8" y="247.2" font-size="7.8" text-anchor="end" font-weight="normal" fill="#111">5</text>
<line x1="228" y1="276.5" x2="231" y2="276.5" stroke="#242424" stroke-width="1"/>
<text x="225.8" y="279.4" font-size="7.8" text-anchor="end" font-weight="normal" fill="#111">0</text>
<circle cx="238.93" cy="261.46" r="1.6" fill="#c8102e"/>
<circle cx="241.82" cy="261.46" r="1.6" fill="#c8102e"/>
<circle cx="240.38" cy="264.35" r="1.6" fill="#c8102e"/>
<circle cx="237.49" cy="269.39" r="1.6" fill="#c8102e"/>
<circle cx="243.98" cy="268.67" r="1.6" fill="#c8102e"/>
<circle cx="236.05" cy="271.56" r="1.6" fill="#c8102e"/>
<circle cx="239.65" cy="272.28" r="1.6" fill="#c8102e"/>
<circle cx="244.7" cy="271.56" r="1.6" fill="#c8102e"/>
<circle cx="236.77" cy="274.44" r="1.6" fill="#c8102e"/>
<circle cx="241.1" cy="274.44" r="1.6" fill="#c8102e"/>
<circle cx="244.7" cy="274.15" r="1.6" fill="#c8102e"/>
<circle cx="259.12" cy="253.24" r="1.6" fill="#c8102e"/>
<circle cx="256.96" cy="261.46" r="1.6" fill="#c8102e"/>
<circle cx="260.57" cy="262.9" r="1.6" fill="#c8102e"/>
<circle cx="259.12" cy="265.79" r="1.6" fill="#c8102e"/>
<circle cx="256.24" cy="268.67" r="1.6" fill="#c8102e"/>
<circle cx="262.01" cy="269.39" r="1.6" fill="#c8102e"/>
<circle cx="254.8" cy="271.56" r="1.6" fill="#c8102e"/>
<circle cx="259.12" cy="271.56" r="1.6" fill="#c8102e"/>
<circle cx="263.45" cy="270.84" r="1.6" fill="#c8102e"/>
<circle cx="255.52" cy="274.44" r="1.6" fill="#c8102e"/>
<circle cx="259.85" cy="274.44" r="1.6" fill="#c8102e"/>
<circle cx="263.88" cy="274.44" r="1.6" fill="#c8102e"/>
<rect x="275.99" y="206.36" width="2.9" height="2.9" fill="#0b4584"/>
<rect x="275.99" y="219.63" width="2.9" height="2.9" fill="#0b4584"/>
<rect x="274.55" y="233.33" width="2.9" height="2.9" fill="#0b4584"/>
<rect x="277.87" y="235.49" width="2.9" height="2.9" fill="#0b4584"/>
<rect x="274.55" y="235.49" width="2.9" height="2.9" fill="#0b4584"/>
<rect x="275.7" y="239.1" width="2.9" height="2.9" fill="#0b4584"/>
<rect x="275.99" y="243.43" width="2.9" height="2.9" fill="#0b4584"/>
<rect x="272.82" y="252.08" width="2.9" height="2.9" fill="#0b4584"/>
<rect x="277.87" y="252.08" width="2.9" height="2.9" fill="#0b4584"/>
<rect x="271.67" y="254.24" width="2.9" height="2.9" fill="#0b4584"/>
<rect x="275.99" y="254.96" width="2.9" height="2.9" fill="#0b4584"/>
<rect x="271.67" y="256.41" width="2.9" height="2.9" fill="#0b4584"/>
<rect x="280.03" y="256.41" width="2.9" height="2.9" fill="#0b4584"/>
<rect x="275.99" y="258.57" width="2.9" height="2.9" fill="#0b4584"/>
<rect x="272.82" y="260.01" width="2.9" height="2.9" fill="#0b4584"/>
<rect x="271.38" y="263.18" width="2.9" height="2.9" fill="#0b4584"/>
<rect x="275.99" y="263.18" width="2.9" height="2.9" fill="#0b4584"/>
<rect x="280.75" y="263.18" width="2.9" height="2.9" fill="#0b4584"/>
<rect x="295.18" y="242.13" width="2.9" height="2.9" fill="#0b4584"/>
<rect x="295.18" y="248.04" width="2.9" height="2.9" fill="#0b4584"/>
<rect x="293.01" y="251.36" width="2.9" height="2.9" fill="#0b4584"/>
<rect x="296.62" y="251.36" width="2.9" height="2.9" fill="#0b4584"/>
<rect x="290.85" y="254.96" width="2.9" height="2.9" fill="#0b4584"/>
<rect x="294.74" y="254.24" width="2.9" height="2.9" fill="#0b4584"/>
<rect x="298.49" y="254.24" width="2.9" height="2.9" fill="#0b4584"/>
<rect x="289.84" y="257.85" width="2.9" height="2.9" fill="#0b4584"/>
<rect x="293.01" y="257.85" width="2.9" height="2.9" fill="#0b4584"/>
<rect x="296.62" y="257.42" width="2.9" height="2.9" fill="#0b4584"/>
<rect x="299.93" y="258.28" width="2.9" height="2.9" fill="#0b4584"/>
<rect x="291.57" y="260.01" width="2.9" height="2.9" fill="#0b4584"/>
<rect x="295.18" y="260.73" width="2.9" height="2.9" fill="#0b4584"/>
<rect x="298.06" y="260.01" width="2.9" height="2.9" fill="#0b4584"/>
<rect x="293.73" y="263.18" width="2.9" height="2.9" fill="#0b4584"/>
<rect x="296.62" y="262.9" width="2.9" height="2.9" fill="#0b4584"/>
<rect x="294.45" y="265.06" width="2.9" height="2.9" fill="#0b4584"/>
<line x1="240.5" y1="265.07" x2="240.5" y2="276.8" stroke="#242424" stroke-width="1"/>
<line x1="237.2" y1="265.5" x2="243.4" y2="265.5" stroke="#242424" stroke-width="1"/>
<line x1="234.3" y1="270.5" x2="246.3" y2="270.5" stroke="#242424" stroke-width="1"/>
<line x1="258.5" y1="262.62" x2="258.5" y2="276.8" stroke="#242424" stroke-width="1"/>
<line x1="255.8" y1="262.5" x2="262" y2="262.5" stroke="#242424" stroke-width="1"/>
<line x1="252.9" y1="268.5" x2="264.9" y2="268.5" stroke="#242424" stroke-width="1"/>
<line x1="277.5" y1="224.39" x2="277.5" y2="268.96" stroke="#242424" stroke-width="1"/>
<line x1="274.4" y1="224.5" x2="280.6" y2="224.5" stroke="#242424" stroke-width="1"/>
<line x1="274.4" y1="268.5" x2="280.6" y2="268.5" stroke="#242424" stroke-width="1"/>
<line x1="271.5" y1="247.5" x2="283.5" y2="247.5" stroke="#242424" stroke-width="1"/>
<line x1="296.5" y1="252.81" x2="296.5" y2="264.35" stroke="#242424" stroke-width="1"/>
<line x1="293" y1="252.5" x2="299.2" y2="252.5" stroke="#242424" stroke-width="1"/>
<line x1="293" y1="264.5" x2="299.2" y2="264.5" stroke="#242424" stroke-width="1"/>
<line x1="290.1" y1="258.5" x2="302.1" y2="258.5" stroke="#242424" stroke-width="1"/>
<line x1="241" y1="241.5" x2="276.8" y2="241.5" stroke="#333" stroke-width="0.9"/>
<line x1="241.5" y1="240.95" x2="241.5" y2="245.2" stroke="#333" stroke-width="0.9"/>
<line x1="276.5" y1="240.95" x2="276.5" y2="245.2" stroke="#333" stroke-width="0.9"/>
<text x="258.35" y="239.5" font-size="7.95" text-anchor="middle" font-weight="normal" fill="#111">0.0012</text>
<line x1="258.5" y1="218.5" x2="296.6" y2="218.5" stroke="#333" stroke-width="0.9"/>
<line x1="258.5" y1="218.45" x2="258.5" y2="222.7" stroke="#333" stroke-width="0.9"/>
<line x1="296.5" y1="218.45" x2="296.5" y2="222.7" stroke="#333" stroke-width="0.9"/>
<text x="277" y="217" font-size="7.95" text-anchor="middle" font-weight="normal" fill="#111">0.0003</text>
<line x1="230.5" y1="276.8" x2="305.4" y2="276.8" stroke="#242424" stroke-width="1.3"/>
<line x1="240.5" y1="276.8" x2="240.5" y2="279.6" stroke="#242424" stroke-width="1"/>
<line x1="258.5" y1="276.8" x2="258.5" y2="279.6" stroke="#242424" stroke-width="1"/>
<line x1="277.5" y1="276.8" x2="277.5" y2="279.6" stroke="#242424" stroke-width="1"/>
<line x1="296.5" y1="276.8" x2="296.5" y2="279.6" stroke="#242424" stroke-width="1"/>
<text x="240.3" y="288.2" font-size="7.35" text-anchor="middle" font-weight="normal" fill="#111">1mo</text>
<text x="258.9" y="288.2" font-size="7.35" text-anchor="middle" font-weight="normal" fill="#111">3mo</text>
<text x="277.5" y="288.2" font-size="7.35" text-anchor="middle" font-weight="normal" fill="#111">1mo</text>
<text x="296.1" y="288.2" font-size="7.35" text-anchor="middle" font-weight="normal" fill="#111">3mo</text>
<text x="249.6" y="298.4" font-size="7.35" text-anchor="middle" font-weight="normal" fill="#111">Control</text>
<text x="286.8" y="298.4" font-size="7.35" text-anchor="middle" font-weight="normal" fill="#111">Vaccine</text>
<text x="373.45" y="190.7" font-size="9.2" text-anchor="middle" font-weight="normal" fill="#111">Mip-1β (CCL4)</text>
<line x1="336.25" y1="197.3" x2="336.25" y2="209.5" stroke="#242424" stroke-width="1.1"/>
<line x1="333.85" y1="209.5" x2="338.65" y2="209.5" stroke="#242424" stroke-width="1.1"/>
<line x1="333.85" y1="212.4" x2="338.65" y2="212.4" stroke="#242424" stroke-width="1.1"/>
<line x1="336.25" y1="212.4" x2="336.25" y2="277.3" stroke="#242424" stroke-width="1.1"/>
<line x1="333.25" y1="202.5" x2="336.25" y2="202.5" stroke="#242424" stroke-width="1"/>
<text transform="translate(331.05 204.9) scale(1.08 1.0)" font-size="7.8" text-anchor="end" font-weight="normal" fill="#111">25</text>
<line x1="333.25" y1="212.5" x2="336.25" y2="212.5" stroke="#242424" stroke-width="1"/>
<text x="331.05" y="215" font-size="7.8" text-anchor="end" font-weight="normal" fill="#111">10</text>
<line x1="333.25" y1="244.5" x2="336.25" y2="244.5" stroke="#242424" stroke-width="1"/>
<text x="331.05" y="247.2" font-size="7.8" text-anchor="end" font-weight="normal" fill="#111">5</text>
<line x1="333.25" y1="276.5" x2="336.25" y2="276.5" stroke="#242424" stroke-width="1"/>
<text x="331.05" y="279.4" font-size="7.8" text-anchor="end" font-weight="normal" fill="#111">0</text>
<circle cx="345.38" cy="247.47" r="1.6" fill="#c8102e"/>
<circle cx="345.38" cy="254.97" r="1.6" fill="#c8102e"/>
<circle cx="343.93" cy="261.46" r="1.6" fill="#c8102e"/>
<circle cx="345.38" cy="264.35" r="1.6" fill="#c8102e"/>
<circle cx="342.49" cy="268.67" r="1.6" fill="#c8102e"/>
<circle cx="347.25" cy="268.67" r="1.6" fill="#c8102e"/>
<circle cx="341.77" cy="271.56" r="1.6" fill="#c8102e"/>
<circle cx="345.38" cy="271.56" r="1.6" fill="#c8102e"/>
<circle cx="340.33" cy="273.72" r="1.6" fill="#c8102e"/>
<circle cx="343.93" cy="274.15" r="1.6" fill="#c8102e"/>
<circle cx="348.98" cy="274.15" r="1.6" fill="#c8102e"/>
<circle cx="363.69" cy="209.54" r="1.6" fill="#c8102e"/>
<circle cx="363.69" cy="252.52" r="1.6" fill="#c8102e"/>
<circle cx="363.69" cy="264.35" r="1.6" fill="#c8102e"/>
<circle cx="361.24" cy="268.67" r="1.6" fill="#c8102e"/>
<circle cx="366.29" cy="268.67" r="1.6" fill="#c8102e"/>
<circle cx="359.08" cy="272.28" r="1.6" fill="#c8102e"/>
<circle cx="362.68" cy="272.28" r="1.6" fill="#c8102e"/>
<circle cx="367.01" cy="272.28" r="1.6" fill="#c8102e"/>
<rect x="380.99" y="206.93" width="2.9" height="2.9" fill="#0b4584"/>
<rect x="379.98" y="242.99" width="2.9" height="2.9" fill="#0b4584"/>
<rect x="382.15" y="245.59" width="2.9" height="2.9" fill="#0b4584"/>
<rect x="380.99" y="254.24" width="2.9" height="2.9" fill="#0b4584"/>
<rect x="377.82" y="255.68" width="2.9" height="2.9" fill="#0b4584"/>
<rect x="382.15" y="257.13" width="2.9" height="2.9" fill="#0b4584"/>
<rect x="379.26" y="260.01" width="2.9" height="2.9" fill="#0b4584"/>
<rect x="376.38" y="265.78" width="2.9" height="2.9" fill="#0b4584"/>
<rect x="379.26" y="267.22" width="2.9" height="2.9" fill="#0b4584"/>
<rect x="382.87" y="266.5" width="2.9" height="2.9" fill="#0b4584"/>
<rect x="385.75" y="267.22" width="2.9" height="2.9" fill="#0b4584"/>
<rect x="399.74" y="251.79" width="2.9" height="2.9" fill="#0b4584"/>
<rect x="396.57" y="253.95" width="2.9" height="2.9" fill="#0b4584"/>
<rect x="401.18" y="254.53" width="2.9" height="2.9" fill="#0b4584"/>
<rect x="398.01" y="256.84" width="2.9" height="2.9" fill="#0b4584"/>
<rect x="401.62" y="260.01" width="2.9" height="2.9" fill="#0b4584"/>
<rect x="395.13" y="263.18" width="2.9" height="2.9" fill="#0b4584"/>
<rect x="398.73" y="264.05" width="2.9" height="2.9" fill="#0b4584"/>
<rect x="403.78" y="263.62" width="2.9" height="2.9" fill="#0b4584"/>
<rect x="394.41" y="267.22" width="2.9" height="2.9" fill="#0b4584"/>
<rect x="398.01" y="267.94" width="2.9" height="2.9" fill="#0b4584"/>
<rect x="402.34" y="267.51" width="2.9" height="2.9" fill="#0b4584"/>
<rect x="400.18" y="270.4" width="2.9" height="2.9" fill="#0b4584"/>
<line x1="345.5" y1="257.86" x2="345.5" y2="276.8" stroke="#242424" stroke-width="1"/>
<line x1="342.45" y1="257.5" x2="348.65" y2="257.5" stroke="#242424" stroke-width="1"/>
<line x1="339.55" y1="266.5" x2="351.55" y2="266.5" stroke="#242424" stroke-width="1"/>
<line x1="364.5" y1="244.15" x2="364.5" y2="276.8" stroke="#242424" stroke-width="1"/>
<line x1="361.05" y1="244.5" x2="367.25" y2="244.5" stroke="#242424" stroke-width="1"/>
<line x1="358.15" y1="263.5" x2="370.15" y2="263.5" stroke="#242424" stroke-width="1"/>
<line x1="382.5" y1="238.1" x2="382.5" y2="276.8" stroke="#242424" stroke-width="1"/>
<line x1="379.65" y1="238.5" x2="385.85" y2="238.5" stroke="#242424" stroke-width="1"/>
<line x1="376.75" y1="257.5" x2="388.75" y2="257.5" stroke="#242424" stroke-width="1"/>
<line x1="401.5" y1="258.58" x2="401.5" y2="269.39" stroke="#242424" stroke-width="1"/>
<line x1="398.25" y1="258.5" x2="404.45" y2="258.5" stroke="#242424" stroke-width="1"/>
<line x1="398.25" y1="269.5" x2="404.45" y2="269.5" stroke="#242424" stroke-width="1"/>
<line x1="395.35" y1="264.5" x2="407.35" y2="264.5" stroke="#242424" stroke-width="1"/>
<line x1="345.4" y1="232.5" x2="381.6" y2="232.5" stroke="#333" stroke-width="0.9"/>
<line x1="345.5" y1="232.05" x2="345.5" y2="236.3" stroke="#333" stroke-width="0.9"/>
<line x1="381.5" y1="232.05" x2="381.5" y2="236.3" stroke="#333" stroke-width="0.9"/>
<text x="362.95" y="230.6" font-size="7.95" text-anchor="middle" font-weight="normal" fill="#111">ns</text>
<line x1="363.1" y1="218.5" x2="401.4" y2="218.5" stroke="#333" stroke-width="0.9"/>
<line x1="363.5" y1="218.15" x2="363.5" y2="222.4" stroke="#333" stroke-width="0.9"/>
<line x1="401.5" y1="218.15" x2="401.5" y2="222.4" stroke="#333" stroke-width="0.9"/>
<text x="381.7" y="216.7" font-size="7.95" text-anchor="middle" font-weight="normal" fill="#111">ns</text>
<line x1="335.75" y1="276.8" x2="410.65" y2="276.8" stroke="#242424" stroke-width="1.3"/>
<line x1="345.5" y1="276.8" x2="345.5" y2="279.6" stroke="#242424" stroke-width="1"/>
<line x1="364.5" y1="276.8" x2="364.5" y2="279.6" stroke="#242424" stroke-width="1"/>
<line x1="382.5" y1="276.8" x2="382.5" y2="279.6" stroke="#242424" stroke-width="1"/>
<line x1="401.5" y1="276.8" x2="401.5" y2="279.6" stroke="#242424" stroke-width="1"/>
<text x="345.55" y="288.2" font-size="7.35" text-anchor="middle" font-weight="normal" fill="#111">1mo</text>
<text x="364.15" y="288.2" font-size="7.35" text-anchor="middle" font-weight="normal" fill="#111">3mo</text>
<text x="382.75" y="288.2" font-size="7.35" text-anchor="middle" font-weight="normal" fill="#111">1mo</text>
<text x="401.35" y="288.2" font-size="7.35" text-anchor="middle" font-weight="normal" fill="#111">3mo</text>
<text x="354.85" y="298.4" font-size="7.35" text-anchor="middle" font-weight="normal" fill="#111">Control</text>
<text x="392.05" y="298.4" font-size="7.35" text-anchor="middle" font-weight="normal" fill="#111">Vaccine</text>
<text x="476.45" y="190.7" font-size="9.2" text-anchor="middle" font-weight="normal" fill="#111">CD107a</text>
<line x1="439.25" y1="197.3" x2="439.25" y2="209.5" stroke="#242424" stroke-width="1.1"/>
<line x1="436.85" y1="209.5" x2="441.65" y2="209.5" stroke="#242424" stroke-width="1.1"/>
<line x1="436.85" y1="212.4" x2="441.65" y2="212.4" stroke="#242424" stroke-width="1.1"/>
<line x1="439.25" y1="212.4" x2="439.25" y2="277.3" stroke="#242424" stroke-width="1.1"/>
<line x1="436.25" y1="202.5" x2="439.25" y2="202.5" stroke="#242424" stroke-width="1"/>
<text transform="translate(434.05 204.9) scale(1.08 1.0)" font-size="7.8" text-anchor="end" font-weight="normal" fill="#111">25</text>
<line x1="436.25" y1="212.5" x2="439.25" y2="212.5" stroke="#242424" stroke-width="1"/>
<text x="434.05" y="215" font-size="7.8" text-anchor="end" font-weight="normal" fill="#111">10</text>
<line x1="436.25" y1="244.5" x2="439.25" y2="244.5" stroke="#242424" stroke-width="1"/>
<text x="434.05" y="247.2" font-size="7.8" text-anchor="end" font-weight="normal" fill="#111">5</text>
<line x1="436.25" y1="276.5" x2="439.25" y2="276.5" stroke="#242424" stroke-width="1"/>
<text x="434.05" y="279.4" font-size="7.8" text-anchor="end" font-weight="normal" fill="#111">0</text>
<circle cx="448.81" cy="231.46" r="1.6" fill="#c8102e"/>
<circle cx="448.81" cy="240.98" r="1.6" fill="#c8102e"/>
<circle cx="448.81" cy="248.19" r="1.6" fill="#c8102e"/>
<circle cx="448.81" cy="255.98" r="1.6" fill="#c8102e"/>
<circle cx="444.77" cy="270.12" r="1.6" fill="#c8102e"/>
<circle cx="448.81" cy="269.39" r="1.6" fill="#c8102e"/>
<circle cx="444.05" cy="272.28" r="1.6" fill="#c8102e"/>
<circle cx="446.93" cy="272.71" r="1.6" fill="#c8102e"/>
<circle cx="450.54" cy="272.28" r="1.6" fill="#c8102e"/>
<circle cx="452.7" cy="272.71" r="1.6" fill="#c8102e"/>
<circle cx="467.85" cy="259.3" r="1.6" fill="#c8102e"/>
<circle cx="466.4" cy="261.46" r="1.6" fill="#c8102e"/>
<circle cx="464.96" cy="265.79" r="1.6" fill="#c8102e"/>
<circle cx="468.57" cy="265.5" r="1.6" fill="#c8102e"/>
<circle cx="463.52" cy="268.67" r="1.6" fill="#c8102e"/>
<circle cx="467.12" cy="268.38" r="1.6" fill="#c8102e"/>
<circle cx="470.73" cy="268.67" r="1.6" fill="#c8102e"/>
<circle cx="462.08" cy="270.84" r="1.6" fill="#c8102e"/>
<circle cx="465.68" cy="270.84" r="1.6" fill="#c8102e"/>
<circle cx="469.29" cy="270.84" r="1.6" fill="#c8102e"/>
<circle cx="472.46" cy="270.84" r="1.6" fill="#c8102e"/>
<rect x="483.99" y="239.1" width="2.9" height="2.9" fill="#0b4584"/>
<rect x="483.99" y="247.75" width="2.9" height="2.9" fill="#0b4584"/>
<rect x="480.82" y="255.68" width="2.9" height="2.9" fill="#0b4584"/>
<rect x="488.75" y="255.68" width="2.9" height="2.9" fill="#0b4584"/>
<rect x="479.38" y="258.57" width="2.9" height="2.9" fill="#0b4584"/>
<rect x="483.7" y="257.85" width="2.9" height="2.9" fill="#0b4584"/>
<rect x="486.59" y="259.29" width="2.9" height="2.9" fill="#0b4584"/>
<rect x="480.82" y="261.45" width="2.9" height="2.9" fill="#0b4584"/>
<rect x="488.75" y="261.45" width="2.9" height="2.9" fill="#0b4584"/>
<rect x="478.66" y="263.62" width="2.9" height="2.9" fill="#0b4584"/>
<rect x="483.99" y="263.62" width="2.9" height="2.9" fill="#0b4584"/>
<rect x="480.82" y="267.22" width="2.9" height="2.9" fill="#0b4584"/>
<rect x="487.31" y="267.22" width="2.9" height="2.9" fill="#0b4584"/>
<rect x="479.38" y="271.55" width="2.9" height="2.9" fill="#0b4584"/>
<rect x="484.43" y="271.26" width="2.9" height="2.9" fill="#0b4584"/>
<rect x="488.75" y="271.55" width="2.9" height="2.9" fill="#0b4584"/>
<rect x="500.72" y="246.31" width="2.9" height="2.9" fill="#0b4584"/>
<rect x="506.49" y="246.31" width="2.9" height="2.9" fill="#0b4584"/>
<rect x="503.18" y="249.19" width="2.9" height="2.9" fill="#0b4584"/>
<rect x="497.41" y="257.85" width="2.9" height="2.9" fill="#0b4584"/>
<rect x="502.45" y="257.13" width="2.9" height="2.9" fill="#0b4584"/>
<rect x="507.5" y="255.68" width="2.9" height="2.9" fill="#0b4584"/>
<rect x="499.57" y="260.01" width="2.9" height="2.9" fill="#0b4584"/>
<rect x="505.34" y="260.01" width="2.9" height="2.9" fill="#0b4584"/>
<rect x="501.01" y="262.18" width="2.9" height="2.9" fill="#0b4584"/>
<rect x="506.78" y="260.73" width="2.9" height="2.9" fill="#0b4584"/>
<rect x="498.13" y="265.49" width="2.9" height="2.9" fill="#0b4584"/>
<rect x="507.93" y="265.49" width="2.9" height="2.9" fill="#0b4584"/>
<rect x="498.13" y="270.11" width="2.9" height="2.9" fill="#0b4584"/>
<rect x="501.73" y="269.82" width="2.9" height="2.9" fill="#0b4584"/>
<rect x="504.62" y="270.11" width="2.9" height="2.9" fill="#0b4584"/>
<rect x="507.93" y="270.11" width="2.9" height="2.9" fill="#0b4584"/>
<line x1="448.5" y1="248.19" x2="448.5" y2="276.8" stroke="#242424" stroke-width="1"/>
<line x1="445.45" y1="248.5" x2="451.65" y2="248.5" stroke="#242424" stroke-width="1"/>
<line x1="442.55" y1="262.5" x2="454.55" y2="262.5" stroke="#242424" stroke-width="1"/>
<line x1="467.5" y1="263.62" x2="467.5" y2="276.8" stroke="#242424" stroke-width="1"/>
<line x1="464.05" y1="263.5" x2="470.25" y2="263.5" stroke="#242424" stroke-width="1"/>
<line x1="461.15" y1="268.5" x2="473.15" y2="268.5" stroke="#242424" stroke-width="1"/>
<line x1="485.5" y1="253.96" x2="485.5" y2="271.56" stroke="#242424" stroke-width="1"/>
<line x1="482.65" y1="253.5" x2="488.85" y2="253.5" stroke="#242424" stroke-width="1"/>
<line x1="482.65" y1="271.5" x2="488.85" y2="271.5" stroke="#242424" stroke-width="1"/>
<line x1="479.75" y1="262.5" x2="491.75" y2="262.5" stroke="#242424" stroke-width="1"/>
<line x1="504.5" y1="252.81" x2="504.5" y2="269.39" stroke="#242424" stroke-width="1"/>
<line x1="501.25" y1="252.5" x2="507.45" y2="252.5" stroke="#242424" stroke-width="1"/>
<line x1="501.25" y1="269.5" x2="507.45" y2="269.5" stroke="#242424" stroke-width="1"/>
<line x1="498.35" y1="261.5" x2="510.35" y2="261.5" stroke="#242424" stroke-width="1"/>
<line x1="448.75" y1="223.5" x2="485.2" y2="223.5" stroke="#333" stroke-width="0.9"/>
<line x1="448.5" y1="223.3" x2="448.5" y2="227.55" stroke="#333" stroke-width="0.9"/>
<line x1="485.5" y1="223.3" x2="485.5" y2="227.55" stroke="#333" stroke-width="0.9"/>
<text x="466.43" y="221.85" font-size="7.95" text-anchor="middle" font-weight="normal" fill="#111">ns</text>
<line x1="466.75" y1="209.5" x2="504.6" y2="209.5" stroke="#333" stroke-width="0.9"/>
<line x1="466.5" y1="208.55" x2="466.5" y2="212.8" stroke="#333" stroke-width="0.9"/>
<line x1="504.5" y1="208.55" x2="504.5" y2="212.8" stroke="#333" stroke-width="0.9"/>
<text x="485.12" y="207.1" font-size="7.95" text-anchor="middle" font-weight="normal" fill="#111">0.0164</text>
<line x1="438.75" y1="276.8" x2="513.65" y2="276.8" stroke="#242424" stroke-width="1.3"/>
<line x1="448.5" y1="276.8" x2="448.5" y2="279.6" stroke="#242424" stroke-width="1"/>
<line x1="467.5" y1="276.8" x2="467.5" y2="279.6" stroke="#242424" stroke-width="1"/>
<line x1="485.5" y1="276.8" x2="485.5" y2="279.6" stroke="#242424" stroke-width="1"/>
<line x1="504.5" y1="276.8" x2="504.5" y2="279.6" stroke="#242424" stroke-width="1"/>
<text x="448.55" y="288.2" font-size="7.35" text-anchor="middle" font-weight="normal" fill="#111">1mo</text>
<text x="467.15" y="288.2" font-size="7.35" text-anchor="middle" font-weight="normal" fill="#111">3mo</text>
<text x="485.75" y="288.2" font-size="7.35" text-anchor="middle" font-weight="normal" fill="#111">1mo</text>
<text x="504.35" y="288.2" font-size="7.35" text-anchor="middle" font-weight="normal" fill="#111">3mo</text>
<text x="457.85" y="298.4" font-size="7.35" text-anchor="middle" font-weight="normal" fill="#111">Control</text>
<text x="495.05" y="298.4" font-size="7.35" text-anchor="middle" font-weight="normal" fill="#111">Vaccine</text>
<text x="7.2" y="329.6" font-size="11.6" text-anchor="start" font-weight="bold" fill="#111">C</text>
<text x="268" y="329.3" font-size="9.3" font-weight="bold" text-anchor="middle" fill="#111">Bone marrow <tspan fill="#c8102e">CD4</tspan> T cell fold-change over baseline</text>
<text x="61.65" y="346.6" font-size="9.2" text-anchor="middle" font-weight="normal" fill="#111">IFN-γ</text>
<line x1="24.45" y1="353.2" x2="24.45" y2="365.4" stroke="#242424" stroke-width="1.1"/>
<line x1="22.05" y1="365.4" x2="26.85" y2="365.4" stroke="#242424" stroke-width="1.1"/>
<line x1="22.05" y1="368.3" x2="26.85" y2="368.3" stroke="#242424" stroke-width="1.1"/>
<line x1="24.45" y1="368.3" x2="24.45" y2="433.2" stroke="#242424" stroke-width="1.1"/>
<line x1="21.45" y1="358.5" x2="24.45" y2="358.5" stroke="#242424" stroke-width="1"/>
<text transform="translate(19.25 360.8) scale(1.08 1.0)" font-size="7.8" text-anchor="end" font-weight="normal" fill="#111">25</text>
<line x1="21.45" y1="368.5" x2="24.45" y2="368.5" stroke="#242424" stroke-width="1"/>
<text x="19.25" y="370.9" font-size="7.8" text-anchor="end" font-weight="normal" fill="#111">15</text>
<line x1="21.45" y1="389.5" x2="24.45" y2="389.5" stroke="#242424" stroke-width="1"/>
<text x="19.25" y="392.37" font-size="7.8" text-anchor="end" font-weight="normal" fill="#111">10</text>
<line x1="21.45" y1="411.5" x2="24.45" y2="411.5" stroke="#242424" stroke-width="1"/>
<text x="19.25" y="413.83" font-size="7.8" text-anchor="end" font-weight="normal" fill="#111">5</text>
<line x1="21.45" y1="432.5" x2="24.45" y2="432.5" stroke="#242424" stroke-width="1"/>
<text x="19.25" y="435.3" font-size="7.8" text-anchor="end" font-weight="normal" fill="#111">0</text>
<circle cx="36.88" cy="429.12" r="1.6" fill="#c8102e"/>
<circle cx="45.62" cy="429.38" r="1.6" fill="#c8102e"/>
<circle cx="32.5" cy="433.12" r="1.6" fill="#c8102e"/>
<circle cx="41.25" cy="432.5" r="1.6" fill="#c8102e"/>
<circle cx="49.75" cy="433.12" r="1.6" fill="#c8102e"/>
<circle cx="53.75" cy="431.62" r="1.6" fill="#c8102e"/>
<rect x="89.55" y="412.68" width="2.9" height="2.9" fill="#0b4584"/>
<rect x="82.55" y="413.55" width="2.9" height="2.9" fill="#0b4584"/>
<rect x="75.42" y="415.18" width="2.9" height="2.9" fill="#0b4584"/>
<rect x="68.55" y="420.05" width="2.9" height="2.9" fill="#0b4584"/>
<rect x="82.3" y="420.05" width="2.9" height="2.9" fill="#0b4584"/>
<rect x="89.42" y="420.05" width="2.9" height="2.9" fill="#0b4584"/>
<rect x="75.42" y="421.93" width="2.9" height="2.9" fill="#0b4584"/>
<rect x="75.42" y="427.05" width="2.9" height="2.9" fill="#0b4584"/>
<rect x="82.55" y="427.05" width="2.9" height="2.9" fill="#0b4584"/>
<line x1="42.5" y1="429.75" x2="42.5" y2="432.7" stroke="#242424" stroke-width="1"/>
<line x1="37.65" y1="429.5" x2="48.25" y2="429.5" stroke="#242424" stroke-width="1"/>
<line x1="32.2" y1="431.5" x2="53.7" y2="431.5" stroke="#242424" stroke-width="1"/>
<line x1="80.5" y1="416.5" x2="80.5" y2="426.5" stroke="#242424" stroke-width="1"/>
<line x1="75.25" y1="416.5" x2="85.85" y2="416.5" stroke="#242424" stroke-width="1"/>
<line x1="75.25" y1="426.5" x2="85.85" y2="426.5" stroke="#242424" stroke-width="1"/>
<line x1="69.8" y1="421.5" x2="91.3" y2="421.5" stroke="#242424" stroke-width="1"/>
<line x1="42.95" y1="389.5" x2="80.55" y2="389.5" stroke="#333" stroke-width="0.9"/>
<line x1="42.5" y1="388.85" x2="42.5" y2="393.1" stroke="#333" stroke-width="0.9"/>
<line x1="80.5" y1="388.85" x2="80.5" y2="393.1" stroke="#333" stroke-width="0.9"/>
<text x="61.2" y="387.4" font-size="7.95" text-anchor="middle" font-weight="normal" fill="#111">0.0003</text>
<line x1="23.95" y1="432.7" x2="98.85" y2="432.7" stroke="#242424" stroke-width="1.3"/>
<line x1="42.5" y1="432.7" x2="42.5" y2="435.5" stroke="#242424" stroke-width="1"/>
<line x1="80.5" y1="432.7" x2="80.5" y2="435.5" stroke="#242424" stroke-width="1"/>
<text x="42.95" y="444.1" font-size="7.35" text-anchor="middle" font-weight="normal" fill="#111">Control</text>
<text x="80.55" y="444.1" font-size="7.35" text-anchor="middle" font-weight="normal" fill="#111">Vaccine</text>
<text x="162" y="346.6" font-size="9.2" text-anchor="middle" font-weight="normal" fill="#111">IL-2</text>
<line x1="124.8" y1="353.2" x2="124.8" y2="365.4" stroke="#242424" stroke-width="1.1"/>
<line x1="122.4" y1="365.4" x2="127.2" y2="365.4" stroke="#242424" stroke-width="1.1"/>
<line x1="122.4" y1="368.3" x2="127.2" y2="368.3" stroke="#242424" stroke-width="1.1"/>
<line x1="124.8" y1="368.3" x2="124.8" y2="433.2" stroke="#242424" stroke-width="1.1"/>
<line x1="121.8" y1="358.5" x2="124.8" y2="358.5" stroke="#242424" stroke-width="1"/>
<text transform="translate(119.6 360.8) scale(1.08 1.0)" font-size="7.8" text-anchor="end" font-weight="normal" fill="#111">25</text>
<line x1="121.8" y1="368.5" x2="124.8" y2="368.5" stroke="#242424" stroke-width="1"/>
<text x="119.6" y="370.9" font-size="7.8" text-anchor="end" font-weight="normal" fill="#111">15</text>
<line x1="121.8" y1="389.5" x2="124.8" y2="389.5" stroke="#242424" stroke-width="1"/>
<text x="119.6" y="392.37" font-size="7.8" text-anchor="end" font-weight="normal" fill="#111">10</text>
<line x1="121.8" y1="411.5" x2="124.8" y2="411.5" stroke="#242424" stroke-width="1"/>
<text x="119.6" y="413.83" font-size="7.8" text-anchor="end" font-weight="normal" fill="#111">5</text>
<line x1="121.8" y1="432.5" x2="124.8" y2="432.5" stroke="#242424" stroke-width="1"/>
<text x="119.6" y="435.3" font-size="7.8" text-anchor="end" font-weight="normal" fill="#111">0</text>
<circle cx="143.5" cy="422.75" r="1.6" fill="#c8102e"/>
<circle cx="132.75" cy="428.75" r="1.6" fill="#c8102e"/>
<circle cx="140" cy="430.38" r="1.6" fill="#c8102e"/>
<circle cx="147.5" cy="431.25" r="1.6" fill="#c8102e"/>
<circle cx="154.38" cy="431.88" r="1.6" fill="#c8102e"/>
<circle cx="133.12" cy="433.12" r="1.6" fill="#c8102e"/>
<rect x="168.8" y="416.68" width="2.9" height="2.9" fill="#0b4584"/>
<rect x="175.8" y="415.8" width="2.9" height="2.9" fill="#0b4584"/>
<rect x="189.8" y="418.8" width="2.9" height="2.9" fill="#0b4584"/>
<rect x="168.8" y="422.05" width="2.9" height="2.9" fill="#0b4584"/>
<rect x="175.8" y="422.3" width="2.9" height="2.9" fill="#0b4584"/>
<rect x="182.93" y="420.05" width="2.9" height="2.9" fill="#0b4584"/>
<rect x="189.8" y="424.18" width="2.9" height="2.9" fill="#0b4584"/>
<rect x="168.8" y="426.3" width="2.9" height="2.9" fill="#0b4584"/>
<rect x="182.93" y="425.8" width="2.9" height="2.9" fill="#0b4584"/>
<line x1="143.5" y1="425.62" x2="143.5" y2="432.7" stroke="#242424" stroke-width="1"/>
<line x1="138" y1="425.5" x2="148.6" y2="425.5" stroke="#242424" stroke-width="1"/>
<line x1="132.55" y1="429.5" x2="154.05" y2="429.5" stroke="#242424" stroke-width="1"/>
<line x1="180.5" y1="419" x2="180.5" y2="426.88" stroke="#242424" stroke-width="1"/>
<line x1="175.6" y1="419.5" x2="186.2" y2="419.5" stroke="#242424" stroke-width="1"/>
<line x1="175.6" y1="426.5" x2="186.2" y2="426.5" stroke="#242424" stroke-width="1"/>
<line x1="170.15" y1="422.5" x2="191.65" y2="422.5" stroke="#242424" stroke-width="1"/>
<line x1="143.3" y1="389.5" x2="180.9" y2="389.5" stroke="#333" stroke-width="0.9"/>
<line x1="143.5" y1="388.7" x2="143.5" y2="392.95" stroke="#333" stroke-width="0.9"/>
<line x1="180.5" y1="388.7" x2="180.5" y2="392.95" stroke="#333" stroke-width="0.9"/>
<text x="161.55" y="387.25" font-size="7.95" text-anchor="middle" font-weight="normal" fill="#111">0.0065</text>
<line x1="124.3" y1="432.7" x2="199.2" y2="432.7" stroke="#242424" stroke-width="1.3"/>
<line x1="143.5" y1="432.7" x2="143.5" y2="435.5" stroke="#242424" stroke-width="1"/>
<line x1="180.5" y1="432.7" x2="180.5" y2="435.5" stroke="#242424" stroke-width="1"/>
<text x="143.3" y="444.1" font-size="7.35" text-anchor="middle" font-weight="normal" fill="#111">Control</text>
<text x="180.9" y="444.1" font-size="7.35" text-anchor="middle" font-weight="normal" fill="#111">Vaccine</text>
<text x="268.2" y="346.6" font-size="9.2" text-anchor="middle" font-weight="normal" fill="#111">TNF-α</text>
<line x1="231" y1="353.2" x2="231" y2="365.4" stroke="#242424" stroke-width="1.1"/>
<line x1="228.6" y1="365.4" x2="233.4" y2="365.4" stroke="#242424" stroke-width="1.1"/>
<line x1="228.6" y1="368.3" x2="233.4" y2="368.3" stroke="#242424" stroke-width="1.1"/>
<line x1="231" y1="368.3" x2="231" y2="433.2" stroke="#242424" stroke-width="1.1"/>
<line x1="228" y1="358.5" x2="231" y2="358.5" stroke="#242424" stroke-width="1"/>
<text transform="translate(225.8 360.8) scale(1.08 1.0)" font-size="7.8" text-anchor="end" font-weight="normal" fill="#111">25</text>
<line x1="228" y1="368.5" x2="231" y2="368.5" stroke="#242424" stroke-width="1"/>
<text x="225.8" y="370.9" font-size="7.8" text-anchor="end" font-weight="normal" fill="#111">15</text>
<line x1="228" y1="389.5" x2="231" y2="389.5" stroke="#242424" stroke-width="1"/>
<text x="225.8" y="392.37" font-size="7.8" text-anchor="end" font-weight="normal" fill="#111">10</text>
<line x1="228" y1="411.5" x2="231" y2="411.5" stroke="#242424" stroke-width="1"/>
<text x="225.8" y="413.83" font-size="7.8" text-anchor="end" font-weight="normal" fill="#111">5</text>
<line x1="228" y1="432.5" x2="231" y2="432.5" stroke="#242424" stroke-width="1"/>
<text x="225.8" y="435.3" font-size="7.8" text-anchor="end" font-weight="normal" fill="#111">0</text>
<circle cx="243.5" cy="429.38" r="1.6" fill="#c8102e"/>
<circle cx="252.25" cy="429.75" r="1.6" fill="#c8102e"/>
<circle cx="239.12" cy="433.12" r="1.6" fill="#c8102e"/>
<circle cx="247.88" cy="432.5" r="1.6" fill="#c8102e"/>
<circle cx="256" cy="432.5" r="1.6" fill="#c8102e"/>
<circle cx="260.38" cy="431" r="1.6" fill="#c8102e"/>
<rect x="283.05" y="406.05" width="2.9" height="2.9" fill="#0b4584"/>
<rect x="288.05" y="405.18" width="2.9" height="2.9" fill="#0b4584"/>
<rect x="285.18" y="416.68" width="2.9" height="2.9" fill="#0b4584"/>
<rect x="291.05" y="416.05" width="2.9" height="2.9" fill="#0b4584"/>
<rect x="280.18" y="420.43" width="2.9" height="2.9" fill="#0b4584"/>
<rect x="291.05" y="420.43" width="2.9" height="2.9" fill="#0b4584"/>
<rect x="274.8" y="422.55" width="2.9" height="2.9" fill="#0b4584"/>
<rect x="285.55" y="422.3" width="2.9" height="2.9" fill="#0b4584"/>
<rect x="295.8" y="424.18" width="2.9" height="2.9" fill="#0b4584"/>
<line x1="249.5" y1="429.75" x2="249.5" y2="432.7" stroke="#242424" stroke-width="1"/>
<line x1="244.2" y1="429.5" x2="254.8" y2="429.5" stroke="#242424" stroke-width="1"/>
<line x1="238.75" y1="431.5" x2="260.25" y2="431.5" stroke="#242424" stroke-width="1"/>
<line x1="287.5" y1="411.88" x2="287.5" y2="425.62" stroke="#242424" stroke-width="1"/>
<line x1="281.8" y1="411.5" x2="292.4" y2="411.5" stroke="#242424" stroke-width="1"/>
<line x1="281.8" y1="425.5" x2="292.4" y2="425.5" stroke="#242424" stroke-width="1"/>
<line x1="276.35" y1="418.5" x2="297.85" y2="418.5" stroke="#242424" stroke-width="1"/>
<line x1="249.5" y1="389.5" x2="287.1" y2="389.5" stroke="#333" stroke-width="0.9"/>
<line x1="249.5" y1="388.7" x2="249.5" y2="392.95" stroke="#333" stroke-width="0.9"/>
<line x1="287.5" y1="388.7" x2="287.5" y2="392.95" stroke="#333" stroke-width="0.9"/>
<text x="267.75" y="387.25" font-size="7.95" text-anchor="middle" font-weight="normal" fill="#111">0.0008</text>
<line x1="230.5" y1="432.7" x2="305.4" y2="432.7" stroke="#242424" stroke-width="1.3"/>
<line x1="249.5" y1="432.7" x2="249.5" y2="435.5" stroke="#242424" stroke-width="1"/>
<line x1="287.5" y1="432.7" x2="287.5" y2="435.5" stroke="#242424" stroke-width="1"/>
<text x="249.5" y="444.1" font-size="7.35" text-anchor="middle" font-weight="normal" fill="#111">Control</text>
<text x="287.1" y="444.1" font-size="7.35" text-anchor="middle" font-weight="normal" fill="#111">Vaccine</text>
<text x="373.45" y="346.6" font-size="9.2" text-anchor="middle" font-weight="normal" fill="#111">Mip-1β (CCL4)</text>
<line x1="336.25" y1="353.2" x2="336.25" y2="365.4" stroke="#242424" stroke-width="1.1"/>
<line x1="333.85" y1="365.4" x2="338.65" y2="365.4" stroke="#242424" stroke-width="1.1"/>
<line x1="333.85" y1="368.3" x2="338.65" y2="368.3" stroke="#242424" stroke-width="1.1"/>
<line x1="336.25" y1="368.3" x2="336.25" y2="433.2" stroke="#242424" stroke-width="1.1"/>
<line x1="333.25" y1="358.5" x2="336.25" y2="358.5" stroke="#242424" stroke-width="1"/>
<text transform="translate(331.05 360.8) scale(1.08 1.0)" font-size="7.8" text-anchor="end" font-weight="normal" fill="#111">25</text>
<line x1="333.25" y1="368.5" x2="336.25" y2="368.5" stroke="#242424" stroke-width="1"/>
<text x="331.05" y="370.9" font-size="7.8" text-anchor="end" font-weight="normal" fill="#111">15</text>
<line x1="333.25" y1="389.5" x2="336.25" y2="389.5" stroke="#242424" stroke-width="1"/>
<text x="331.05" y="392.37" font-size="7.8" text-anchor="end" font-weight="normal" fill="#111">10</text>
<line x1="333.25" y1="411.5" x2="336.25" y2="411.5" stroke="#242424" stroke-width="1"/>
<text x="331.05" y="413.83" font-size="7.8" text-anchor="end" font-weight="normal" fill="#111">5</text>
<line x1="333.25" y1="432.5" x2="336.25" y2="432.5" stroke="#242424" stroke-width="1"/>
<text x="331.05" y="435.3" font-size="7.8" text-anchor="end" font-weight="normal" fill="#111">0</text>
<circle cx="343.75" cy="428.12" r="1.6" fill="#c8102e"/>
<circle cx="350.38" cy="428.75" r="1.6" fill="#c8102e"/>
<circle cx="357.88" cy="427.25" r="1.6" fill="#c8102e"/>
<circle cx="357.88" cy="431.25" r="1.6" fill="#c8102e"/>
<circle cx="364.12" cy="431.5" r="1.6" fill="#c8102e"/>
<circle cx="343.75" cy="432.75" r="1.6" fill="#c8102e"/>
<rect x="379.55" y="421.3" width="2.9" height="2.9" fill="#0b4584"/>
<rect x="385.18" y="422.3" width="2.9" height="2.9" fill="#0b4584"/>
<rect x="389.55" y="422.3" width="2.9" height="2.9" fill="#0b4584"/>
<rect x="389.55" y="424.8" width="2.9" height="2.9" fill="#0b4584"/>
<rect x="395.18" y="418.8" width="2.9" height="2.9" fill="#0b4584"/>
<rect x="395.18" y="421.68" width="2.9" height="2.9" fill="#0b4584"/>
<rect x="395.18" y="426.68" width="2.9" height="2.9" fill="#0b4584"/>
<rect x="400.8" y="422.05" width="2.9" height="2.9" fill="#0b4584"/>
<rect x="385.18" y="427.55" width="2.9" height="2.9" fill="#0b4584"/>
<rect x="390.8" y="425.43" width="2.9" height="2.9" fill="#0b4584"/>
<line x1="354.5" y1="427.5" x2="354.5" y2="432.7" stroke="#242424" stroke-width="1"/>
<line x1="349.45" y1="427.5" x2="360.05" y2="427.5" stroke="#242424" stroke-width="1"/>
<line x1="344" y1="430.5" x2="365.5" y2="430.5" stroke="#242424" stroke-width="1"/>
<line x1="392.5" y1="423.12" x2="392.5" y2="426.88" stroke="#242424" stroke-width="1"/>
<line x1="387.05" y1="423.5" x2="397.65" y2="423.5" stroke="#242424" stroke-width="1"/>
<line x1="387.05" y1="426.5" x2="397.65" y2="426.5" stroke="#242424" stroke-width="1"/>
<line x1="381.6" y1="425.5" x2="403.1" y2="425.5" stroke="#242424" stroke-width="1"/>
<line x1="354.75" y1="389.5" x2="392.35" y2="389.5" stroke="#333" stroke-width="0.9"/>
<line x1="354.5" y1="388.7" x2="354.5" y2="392.95" stroke="#333" stroke-width="0.9"/>
<line x1="392.5" y1="388.7" x2="392.5" y2="392.95" stroke="#333" stroke-width="0.9"/>
<text x="373" y="387.25" font-size="7.95" text-anchor="middle" font-weight="normal" fill="#111">0.0008</text>
<line x1="335.75" y1="432.7" x2="410.65" y2="432.7" stroke="#242424" stroke-width="1.3"/>
<line x1="354.5" y1="432.7" x2="354.5" y2="435.5" stroke="#242424" stroke-width="1"/>
<line x1="392.5" y1="432.7" x2="392.5" y2="435.5" stroke="#242424" stroke-width="1"/>
<text x="354.75" y="444.1" font-size="7.35" text-anchor="middle" font-weight="normal" fill="#111">Control</text>
<text x="392.35" y="444.1" font-size="7.35" text-anchor="middle" font-weight="normal" fill="#111">Vaccine</text>
<text x="476.45" y="346.6" font-size="9.2" text-anchor="middle" font-weight="normal" fill="#111">CD107a</text>
<line x1="439.25" y1="353.2" x2="439.25" y2="365.4" stroke="#242424" stroke-width="1.1"/>
<line x1="436.85" y1="365.4" x2="441.65" y2="365.4" stroke="#242424" stroke-width="1.1"/>
<line x1="436.85" y1="368.3" x2="441.65" y2="368.3" stroke="#242424" stroke-width="1.1"/>
<line x1="439.25" y1="368.3" x2="439.25" y2="433.2" stroke="#242424" stroke-width="1.1"/>
<line x1="436.25" y1="358.5" x2="439.25" y2="358.5" stroke="#242424" stroke-width="1"/>
<text transform="translate(434.05 360.8) scale(1.08 1.0)" font-size="7.8" text-anchor="end" font-weight="normal" fill="#111">25</text>
<line x1="436.25" y1="368.5" x2="439.25" y2="368.5" stroke="#242424" stroke-width="1"/>
<text x="434.05" y="370.9" font-size="7.8" text-anchor="end" font-weight="normal" fill="#111">15</text>
<line x1="436.25" y1="389.5" x2="439.25" y2="389.5" stroke="#242424" stroke-width="1"/>
<text x="434.05" y="392.37" font-size="7.8" text-anchor="end" font-weight="normal" fill="#111">10</text>
<line x1="436.25" y1="411.5" x2="439.25" y2="411.5" stroke="#242424" stroke-width="1"/>
<text x="434.05" y="413.83" font-size="7.8" text-anchor="end" font-weight="normal" fill="#111">5</text>
<line x1="436.25" y1="432.5" x2="439.25" y2="432.5" stroke="#242424" stroke-width="1"/>
<text x="434.05" y="435.3" font-size="7.8" text-anchor="end" font-weight="normal" fill="#111">0</text>
<circle cx="461.5" cy="420" r="1.6" fill="#c8102e"/>
<circle cx="454" cy="422.88" r="1.6" fill="#c8102e"/>
<circle cx="454.62" cy="429.38" r="1.6" fill="#c8102e"/>
<circle cx="461.5" cy="431" r="1.6" fill="#c8102e"/>
<circle cx="468.38" cy="431.5" r="1.6" fill="#c8102e"/>
<circle cx="446.75" cy="432.5" r="1.6" fill="#c8102e"/>
<rect x="482.55" y="417.93" width="2.9" height="2.9" fill="#0b4584"/>
<rect x="482.8" y="421.68" width="2.9" height="2.9" fill="#0b4584"/>
<rect x="487.8" y="419.18" width="2.9" height="2.9" fill="#0b4584"/>
<rect x="493.8" y="414.8" width="2.9" height="2.9" fill="#0b4584"/>
<rect x="499.05" y="413.8" width="2.9" height="2.9" fill="#0b4584"/>
<rect x="493.8" y="419.18" width="2.9" height="2.9" fill="#0b4584"/>
<rect x="497.55" y="420.43" width="2.9" height="2.9" fill="#0b4584"/>
<rect x="503.8" y="417.93" width="2.9" height="2.9" fill="#0b4584"/>
<rect x="503.8" y="422.3" width="2.9" height="2.9" fill="#0b4584"/>
<line x1="457.5" y1="422.88" x2="457.5" y2="432.7" stroke="#242424" stroke-width="1"/>
<line x1="452.45" y1="422.5" x2="463.05" y2="422.5" stroke="#242424" stroke-width="1"/>
<line x1="447" y1="427.5" x2="468.5" y2="427.5" stroke="#242424" stroke-width="1"/>
<line x1="495.5" y1="417.5" x2="495.5" y2="422.75" stroke="#242424" stroke-width="1"/>
<line x1="490.05" y1="417.5" x2="500.65" y2="417.5" stroke="#242424" stroke-width="1"/>
<line x1="490.05" y1="422.5" x2="500.65" y2="422.5" stroke="#242424" stroke-width="1"/>
<line x1="484.6" y1="420.5" x2="506.1" y2="420.5" stroke="#242424" stroke-width="1"/>
<line x1="457.75" y1="389.5" x2="495.35" y2="389.5" stroke="#333" stroke-width="0.9"/>
<line x1="457.5" y1="388.7" x2="457.5" y2="392.95" stroke="#333" stroke-width="0.9"/>
<line x1="495.5" y1="388.7" x2="495.5" y2="392.95" stroke="#333" stroke-width="0.9"/>
<text x="476" y="387.25" font-size="7.95" text-anchor="middle" font-weight="normal" fill="#111">0.0151</text>
<line x1="438.75" y1="432.7" x2="513.65" y2="432.7" stroke="#242424" stroke-width="1.3"/>
<line x1="457.5" y1="432.7" x2="457.5" y2="435.5" stroke="#242424" stroke-width="1"/>
<line x1="495.5" y1="432.7" x2="495.5" y2="435.5" stroke="#242424" stroke-width="1"/>
<text x="457.75" y="444.1" font-size="7.35" text-anchor="middle" font-weight="normal" fill="#111">Control</text>
<text x="495.35" y="444.1" font-size="7.35" text-anchor="middle" font-weight="normal" fill="#111">Vaccine</text>
<text x="7.2" y="474.9" font-size="11.6" text-anchor="start" font-weight="bold" fill="#111">D</text>
<text x="268" y="474.6" font-size="9.3" font-weight="bold" text-anchor="middle" fill="#111">Bone marrow <tspan fill="#c8102e">CD8</tspan> T cell fold-change over baseline</text>
<text x="61.65" y="491.2" font-size="9.2" text-anchor="middle" font-weight="normal" fill="#111">IFN-γ</text>
<line x1="24.45" y1="497.8" x2="24.45" y2="510" stroke="#242424" stroke-width="1.1"/>
<line x1="22.05" y1="510" x2="26.85" y2="510" stroke="#242424" stroke-width="1.1"/>
<line x1="22.05" y1="512.9" x2="26.85" y2="512.9" stroke="#242424" stroke-width="1.1"/>
<line x1="24.45" y1="512.9" x2="24.45" y2="577.8" stroke="#242424" stroke-width="1.1"/>
<line x1="21.45" y1="502.5" x2="24.45" y2="502.5" stroke="#242424" stroke-width="1"/>
<text transform="translate(19.25 505.4) scale(1.08 1.0)" font-size="7.8" text-anchor="end" font-weight="normal" fill="#111">25</text>
<line x1="21.45" y1="512.5" x2="24.45" y2="512.5" stroke="#242424" stroke-width="1"/>
<text x="19.25" y="515.5" font-size="7.8" text-anchor="end" font-weight="normal" fill="#111">15</text>
<line x1="21.45" y1="534.5" x2="24.45" y2="534.5" stroke="#242424" stroke-width="1"/>
<text x="19.25" y="536.97" font-size="7.8" text-anchor="end" font-weight="normal" fill="#111">10</text>
<line x1="21.45" y1="555.5" x2="24.45" y2="555.5" stroke="#242424" stroke-width="1"/>
<text x="19.25" y="558.43" font-size="7.8" text-anchor="end" font-weight="normal" fill="#111">5</text>
<line x1="21.45" y1="577.5" x2="24.45" y2="577.5" stroke="#242424" stroke-width="1"/>
<text x="19.25" y="579.9" font-size="7.8" text-anchor="end" font-weight="normal" fill="#111">0</text>
<circle cx="32.5" cy="572.71" r="1.6" fill="#c8102e"/>
<circle cx="46.63" cy="571.85" r="1.6" fill="#c8102e"/>
<circle cx="32.5" cy="576.61" r="1.6" fill="#c8102e"/>
<circle cx="40.14" cy="575.88" r="1.6" fill="#c8102e"/>
<circle cx="46.63" cy="577.04" r="1.6" fill="#c8102e"/>
<circle cx="53.85" cy="576.61" r="1.6" fill="#c8102e"/>
<rect x="85.86" y="534.77" width="2.9" height="2.9" fill="#0b4584"/>
<rect x="79.08" y="537.66" width="2.9" height="2.9" fill="#0b4584"/>
<rect x="79.08" y="542.42" width="2.9" height="2.9" fill="#0b4584"/>
<rect x="85.86" y="542.42" width="2.9" height="2.9" fill="#0b4584"/>
<rect x="79.08" y="546.31" width="2.9" height="2.9" fill="#0b4584"/>
<rect x="79.08" y="555.68" width="2.9" height="2.9" fill="#0b4584"/>
<rect x="79.08" y="560.01" width="2.9" height="2.9" fill="#0b4584"/>
<rect x="85.86" y="561.45" width="2.9" height="2.9" fill="#0b4584"/>
<rect x="71.87" y="562.9" width="2.9" height="2.9" fill="#0b4584"/>
<line x1="42.5" y1="572.71" x2="42.5" y2="577.3" stroke="#242424" stroke-width="1"/>
<line x1="37.65" y1="572.5" x2="48.25" y2="572.5" stroke="#242424" stroke-width="1"/>
<line x1="32.2" y1="575.5" x2="53.7" y2="575.5" stroke="#242424" stroke-width="1"/>
<line x1="80.5" y1="540.12" x2="80.5" y2="561.17" stroke="#242424" stroke-width="1"/>
<line x1="75.25" y1="540.5" x2="85.85" y2="540.5" stroke="#242424" stroke-width="1"/>
<line x1="75.25" y1="561.5" x2="85.85" y2="561.5" stroke="#242424" stroke-width="1"/>
<line x1="69.8" y1="550.5" x2="91.3" y2="550.5" stroke="#242424" stroke-width="1"/>
<line x1="42.6" y1="524.5" x2="80.53" y2="524.5" stroke="#333" stroke-width="0.9"/>
<line x1="42.5" y1="524.24" x2="42.5" y2="528.49" stroke="#333" stroke-width="0.9"/>
<line x1="80.5" y1="524.24" x2="80.5" y2="528.49" stroke="#333" stroke-width="0.9"/>
<text x="61.01" y="522.79" font-size="7.95" text-anchor="middle" font-weight="normal" fill="#111">0.0001</text>
<line x1="23.95" y1="577.3" x2="98.85" y2="577.3" stroke="#242424" stroke-width="1.3"/>
<line x1="42.5" y1="577.3" x2="42.5" y2="580.1" stroke="#242424" stroke-width="1"/>
<line x1="80.5" y1="577.3" x2="80.5" y2="580.1" stroke="#242424" stroke-width="1"/>
<text x="42.95" y="588.7" font-size="7.35" text-anchor="middle" font-weight="normal" fill="#111">Control</text>
<text x="80.55" y="588.7" font-size="7.35" text-anchor="middle" font-weight="normal" fill="#111">Vaccine</text>
<text x="162" y="491.2" font-size="9.2" text-anchor="middle" font-weight="normal" fill="#111">IL-2</text>
<line x1="124.8" y1="497.8" x2="124.8" y2="510" stroke="#242424" stroke-width="1.1"/>
<line x1="122.4" y1="510" x2="127.2" y2="510" stroke="#242424" stroke-width="1.1"/>
<line x1="122.4" y1="512.9" x2="127.2" y2="512.9" stroke="#242424" stroke-width="1.1"/>
<line x1="124.8" y1="512.9" x2="124.8" y2="577.8" stroke="#242424" stroke-width="1.1"/>
<line x1="121.8" y1="502.5" x2="124.8" y2="502.5" stroke="#242424" stroke-width="1"/>
<text transform="translate(119.6 505.4) scale(1.08 1.0)" font-size="7.8" text-anchor="end" font-weight="normal" fill="#111">25</text>
<line x1="121.8" y1="512.5" x2="124.8" y2="512.5" stroke="#242424" stroke-width="1"/>
<text x="119.6" y="515.5" font-size="7.8" text-anchor="end" font-weight="normal" fill="#111">15</text>
<line x1="121.8" y1="534.5" x2="124.8" y2="534.5" stroke="#242424" stroke-width="1"/>
<text x="119.6" y="536.97" font-size="7.8" text-anchor="end" font-weight="normal" fill="#111">10</text>
<line x1="121.8" y1="555.5" x2="124.8" y2="555.5" stroke="#242424" stroke-width="1"/>
<text x="119.6" y="558.43" font-size="7.8" text-anchor="end" font-weight="normal" fill="#111">5</text>
<line x1="121.8" y1="577.5" x2="124.8" y2="577.5" stroke="#242424" stroke-width="1"/>
<text x="119.6" y="579.9" font-size="7.8" text-anchor="end" font-weight="normal" fill="#111">0</text>
<circle cx="134.38" cy="570.84" r="1.6" fill="#c8102e"/>
<circle cx="147.36" cy="569.39" r="1.6" fill="#c8102e"/>
<circle cx="134.38" cy="575.88" r="1.6" fill="#c8102e"/>
<circle cx="140.14" cy="575.6" r="1.6" fill="#c8102e"/>
<circle cx="147.36" cy="576.17" r="1.6" fill="#c8102e"/>
<circle cx="153.85" cy="575.16" r="1.6" fill="#c8102e"/>
<rect x="174.03" y="559.29" width="2.9" height="2.9" fill="#0b4584"/>
<rect x="179.08" y="557.85" width="2.9" height="2.9" fill="#0b4584"/>
<rect x="184.85" y="557.85" width="2.9" height="2.9" fill="#0b4584"/>
<rect x="168.98" y="564.05" width="2.9" height="2.9" fill="#0b4584"/>
<rect x="179.08" y="566.07" width="2.9" height="2.9" fill="#0b4584"/>
<rect x="189.9" y="565.78" width="2.9" height="2.9" fill="#0b4584"/>
<rect x="174.03" y="566.93" width="2.9" height="2.9" fill="#0b4584"/>
<rect x="184.85" y="568.38" width="2.9" height="2.9" fill="#0b4584"/>
<rect x="174.03" y="570.83" width="2.9" height="2.9" fill="#0b4584"/>
<line x1="143.5" y1="570.84" x2="143.5" y2="577.3" stroke="#242424" stroke-width="1"/>
<line x1="138" y1="570.5" x2="148.6" y2="570.5" stroke="#242424" stroke-width="1"/>
<line x1="132.55" y1="573.5" x2="154.05" y2="573.5" stroke="#242424" stroke-width="1"/>
<line x1="180.5" y1="561.46" x2="180.5" y2="569.83" stroke="#242424" stroke-width="1"/>
<line x1="175.6" y1="561.5" x2="186.2" y2="561.5" stroke="#242424" stroke-width="1"/>
<line x1="175.6" y1="569.5" x2="186.2" y2="569.5" stroke="#242424" stroke-width="1"/>
<line x1="170.15" y1="565.5" x2="191.65" y2="565.5" stroke="#242424" stroke-width="1"/>
<line x1="143.46" y1="533.5" x2="181.25" y2="533.5" stroke="#333" stroke-width="0.9"/>
<line x1="143.5" y1="532.75" x2="143.5" y2="537" stroke="#333" stroke-width="0.9"/>
<line x1="181.5" y1="532.75" x2="181.5" y2="537" stroke="#333" stroke-width="0.9"/>
<text x="161.81" y="531.3" font-size="7.95" text-anchor="middle" font-weight="normal" fill="#111">0.0014</text>
<line x1="124.3" y1="577.3" x2="199.2" y2="577.3" stroke="#242424" stroke-width="1.3"/>
<line x1="143.5" y1="577.3" x2="143.5" y2="580.1" stroke="#242424" stroke-width="1"/>
<line x1="180.5" y1="577.3" x2="180.5" y2="580.1" stroke="#242424" stroke-width="1"/>
<text x="143.3" y="588.7" font-size="7.35" text-anchor="middle" font-weight="normal" fill="#111">Control</text>
<text x="180.9" y="588.7" font-size="7.35" text-anchor="middle" font-weight="normal" fill="#111">Vaccine</text>
<text x="268.2" y="491.2" font-size="9.2" text-anchor="middle" font-weight="normal" fill="#111">TNF-α</text>
<line x1="231" y1="497.8" x2="231" y2="510" stroke="#242424" stroke-width="1.1"/>
<line x1="228.6" y1="510" x2="233.4" y2="510" stroke="#242424" stroke-width="1.1"/>
<line x1="228.6" y1="512.9" x2="233.4" y2="512.9" stroke="#242424" stroke-width="1.1"/>
<line x1="231" y1="512.9" x2="231" y2="577.8" stroke="#242424" stroke-width="1.1"/>
<line x1="228" y1="502.5" x2="231" y2="502.5" stroke="#242424" stroke-width="1"/>
<text transform="translate(225.8 505.4) scale(1.08 1.0)" font-size="7.8" text-anchor="end" font-weight="normal" fill="#111">25</text>
<line x1="228" y1="512.5" x2="231" y2="512.5" stroke="#242424" stroke-width="1"/>
<text x="225.8" y="515.5" font-size="7.8" text-anchor="end" font-weight="normal" fill="#111">15</text>
<line x1="228" y1="534.5" x2="231" y2="534.5" stroke="#242424" stroke-width="1"/>
<text x="225.8" y="536.97" font-size="7.8" text-anchor="end" font-weight="normal" fill="#111">10</text>
<line x1="228" y1="555.5" x2="231" y2="555.5" stroke="#242424" stroke-width="1"/>
<text x="225.8" y="558.43" font-size="7.8" text-anchor="end" font-weight="normal" fill="#111">5</text>
<line x1="228" y1="577.5" x2="231" y2="577.5" stroke="#242424" stroke-width="1"/>
<text x="225.8" y="579.9" font-size="7.8" text-anchor="end" font-weight="normal" fill="#111">0</text>
<circle cx="239.37" cy="570.12" r="1.6" fill="#c8102e"/>
<circle cx="253.36" cy="569.39" r="1.6" fill="#c8102e"/>
<circle cx="246.14" cy="573.29" r="1.6" fill="#c8102e"/>
<circle cx="253.36" cy="574.73" r="1.6" fill="#c8102e"/>
<circle cx="239.37" cy="576.61" r="1.6" fill="#c8102e"/>
<circle cx="260.57" cy="575.45" r="1.6" fill="#c8102e"/>
<rect x="288.97" y="556.84" width="2.9" height="2.9" fill="#0b4584"/>
<rect x="295.9" y="557.85" width="2.9" height="2.9" fill="#0b4584"/>
<rect x="282.19" y="558.28" width="2.9" height="2.9" fill="#0b4584"/>
<rect x="275.42" y="564.05" width="2.9" height="2.9" fill="#0b4584"/>
<rect x="282.19" y="564.05" width="2.9" height="2.9" fill="#0b4584"/>
<rect x="288.97" y="560.73" width="2.9" height="2.9" fill="#0b4584"/>
<rect x="295.9" y="563.62" width="2.9" height="2.9" fill="#0b4584"/>
<rect x="288.97" y="566.93" width="2.9" height="2.9" fill="#0b4584"/>
<rect x="281.76" y="570.4" width="2.9" height="2.9" fill="#0b4584"/>
<line x1="249.5" y1="570.12" x2="249.5" y2="577.3" stroke="#242424" stroke-width="1"/>
<line x1="244.2" y1="570.5" x2="254.8" y2="570.5" stroke="#242424" stroke-width="1"/>
<line x1="238.75" y1="573.5" x2="260.25" y2="573.5" stroke="#242424" stroke-width="1"/>
<line x1="287.5" y1="559.73" x2="287.5" y2="568.96" stroke="#242424" stroke-width="1"/>
<line x1="281.8" y1="559.5" x2="292.4" y2="559.5" stroke="#242424" stroke-width="1"/>
<line x1="281.8" y1="568.5" x2="292.4" y2="568.5" stroke="#242424" stroke-width="1"/>
<line x1="276.35" y1="564.5" x2="297.85" y2="564.5" stroke="#242424" stroke-width="1"/>
<line x1="249.46" y1="533.5" x2="287.25" y2="533.5" stroke="#333" stroke-width="0.9"/>
<line x1="249.5" y1="532.75" x2="249.5" y2="537" stroke="#333" stroke-width="0.9"/>
<line x1="287.5" y1="532.75" x2="287.5" y2="537" stroke="#333" stroke-width="0.9"/>
<text x="267.81" y="531.3" font-size="7.95" text-anchor="middle" font-weight="normal" fill="#111">0.0003</text>
<line x1="230.5" y1="577.3" x2="305.4" y2="577.3" stroke="#242424" stroke-width="1.3"/>
<line x1="249.5" y1="577.3" x2="249.5" y2="580.1" stroke="#242424" stroke-width="1"/>
<line x1="287.5" y1="577.3" x2="287.5" y2="580.1" stroke="#242424" stroke-width="1"/>
<text x="249.5" y="588.7" font-size="7.35" text-anchor="middle" font-weight="normal" fill="#111">Control</text>
<text x="287.1" y="588.7" font-size="7.35" text-anchor="middle" font-weight="normal" fill="#111">Vaccine</text>
<text x="373.45" y="491.2" font-size="9.2" text-anchor="middle" font-weight="normal" fill="#111">Mip-1β (CCL4)</text>
<line x1="336.25" y1="497.8" x2="336.25" y2="510" stroke="#242424" stroke-width="1.1"/>
<line x1="333.85" y1="510" x2="338.65" y2="510" stroke="#242424" stroke-width="1.1"/>
<line x1="333.85" y1="512.9" x2="338.65" y2="512.9" stroke="#242424" stroke-width="1.1"/>
<line x1="336.25" y1="512.9" x2="336.25" y2="577.8" stroke="#242424" stroke-width="1.1"/>
<line x1="333.25" y1="502.5" x2="336.25" y2="502.5" stroke="#242424" stroke-width="1"/>
<text transform="translate(331.05 505.4) scale(1.08 1.0)" font-size="7.8" text-anchor="end" font-weight="normal" fill="#111">25</text>
<line x1="333.25" y1="512.5" x2="336.25" y2="512.5" stroke="#242424" stroke-width="1"/>
<text x="331.05" y="515.5" font-size="7.8" text-anchor="end" font-weight="normal" fill="#111">15</text>
<line x1="333.25" y1="534.5" x2="336.25" y2="534.5" stroke="#242424" stroke-width="1"/>
<text x="331.05" y="536.97" font-size="7.8" text-anchor="end" font-weight="normal" fill="#111">10</text>
<line x1="333.25" y1="555.5" x2="336.25" y2="555.5" stroke="#242424" stroke-width="1"/>
<text x="331.05" y="558.43" font-size="7.8" text-anchor="end" font-weight="normal" fill="#111">5</text>
<line x1="333.25" y1="577.5" x2="336.25" y2="577.5" stroke="#242424" stroke-width="1"/>
<text x="331.05" y="579.9" font-size="7.8" text-anchor="end" font-weight="normal" fill="#111">0</text>
<circle cx="354.03" cy="564.06" r="1.6" fill="#c8102e"/>
<circle cx="344.94" cy="572.71" r="1.6" fill="#c8102e"/>
<circle cx="350.42" cy="574.15" r="1.6" fill="#c8102e"/>
<circle cx="344.94" cy="576.61" r="1.6" fill="#c8102e"/>
<circle cx="358.36" cy="575.88" r="1.6" fill="#c8102e"/>
<circle cx="364.56" cy="574.44" r="1.6" fill="#c8102e"/>
<rect x="385.03" y="539.82" width="2.9" height="2.9" fill="#0b4584"/>
<rect x="389.65" y="539.1" width="2.9" height="2.9" fill="#0b4584"/>
<rect x="394.41" y="540.11" width="2.9" height="2.9" fill="#0b4584"/>
<rect x="379.55" y="568.67" width="2.9" height="2.9" fill="#0b4584"/>
<rect x="383.88" y="566.07" width="2.9" height="2.9" fill="#0b4584"/>
<rect x="387.92" y="568.38" width="2.9" height="2.9" fill="#0b4584"/>
<rect x="392.24" y="566.5" width="2.9" height="2.9" fill="#0b4584"/>
<rect x="396.57" y="568.95" width="2.9" height="2.9" fill="#0b4584"/>
<rect x="400.9" y="567.51" width="2.9" height="2.9" fill="#0b4584"/>
<line x1="354.5" y1="568.67" x2="354.5" y2="577.3" stroke="#242424" stroke-width="1"/>
<line x1="349.45" y1="568.5" x2="360.05" y2="568.5" stroke="#242424" stroke-width="1"/>
<line x1="344" y1="572.5" x2="365.5" y2="572.5" stroke="#242424" stroke-width="1"/>
<line x1="392.5" y1="545.6" x2="392.5" y2="573.72" stroke="#242424" stroke-width="1"/>
<line x1="387.05" y1="545.5" x2="397.65" y2="545.5" stroke="#242424" stroke-width="1"/>
<line x1="387.05" y1="573.5" x2="397.65" y2="573.5" stroke="#242424" stroke-width="1"/>
<line x1="381.6" y1="560.5" x2="403.1" y2="560.5" stroke="#242424" stroke-width="1"/>
<line x1="353.6" y1="533.5" x2="391.96" y2="533.5" stroke="#333" stroke-width="0.9"/>
<line x1="353.5" y1="532.75" x2="353.5" y2="537" stroke="#333" stroke-width="0.9"/>
<line x1="391.5" y1="532.75" x2="391.5" y2="537" stroke="#333" stroke-width="0.9"/>
<text x="372.23" y="531.3" font-size="7.95" text-anchor="middle" font-weight="normal" fill="#111">0.0249</text>
<line x1="335.75" y1="577.3" x2="410.65" y2="577.3" stroke="#242424" stroke-width="1.3"/>
<line x1="354.5" y1="577.3" x2="354.5" y2="580.1" stroke="#242424" stroke-width="1"/>
<line x1="392.5" y1="577.3" x2="392.5" y2="580.1" stroke="#242424" stroke-width="1"/>
<text x="354.75" y="588.7" font-size="7.35" text-anchor="middle" font-weight="normal" fill="#111">Control</text>
<text x="392.35" y="588.7" font-size="7.35" text-anchor="middle" font-weight="normal" fill="#111">Vaccine</text>
<text x="476.45" y="491.2" font-size="9.2" text-anchor="middle" font-weight="normal" fill="#111">CD107a</text>
<line x1="439.25" y1="497.8" x2="439.25" y2="510" stroke="#242424" stroke-width="1.1"/>
<line x1="436.85" y1="510" x2="441.65" y2="510" stroke="#242424" stroke-width="1.1"/>
<line x1="436.85" y1="512.9" x2="441.65" y2="512.9" stroke="#242424" stroke-width="1.1"/>
<line x1="439.25" y1="512.9" x2="439.25" y2="577.8" stroke="#242424" stroke-width="1.1"/>
<line x1="436.25" y1="502.5" x2="439.25" y2="502.5" stroke="#242424" stroke-width="1"/>
<text transform="translate(434.05 505.4) scale(1.08 1.0)" font-size="7.8" text-anchor="end" font-weight="normal" fill="#111">25</text>
<line x1="436.25" y1="512.5" x2="439.25" y2="512.5" stroke="#242424" stroke-width="1"/>
<text x="434.05" y="515.5" font-size="7.8" text-anchor="end" font-weight="normal" fill="#111">15</text>
<line x1="436.25" y1="534.5" x2="439.25" y2="534.5" stroke="#242424" stroke-width="1"/>
<text x="434.05" y="536.97" font-size="7.8" text-anchor="end" font-weight="normal" fill="#111">10</text>
<line x1="436.25" y1="555.5" x2="439.25" y2="555.5" stroke="#242424" stroke-width="1"/>
<text x="434.05" y="558.43" font-size="7.8" text-anchor="end" font-weight="normal" fill="#111">5</text>
<line x1="436.25" y1="577.5" x2="439.25" y2="577.5" stroke="#242424" stroke-width="1"/>
<text x="434.05" y="579.9" font-size="7.8" text-anchor="end" font-weight="normal" fill="#111">0</text>
<circle cx="457.75" cy="555.4" r="1.6" fill="#c8102e"/>
<circle cx="450.54" cy="565.5" r="1.6" fill="#c8102e"/>
<circle cx="457.75" cy="567.23" r="1.6" fill="#c8102e"/>
<circle cx="450.54" cy="576.17" r="1.6" fill="#c8102e"/>
<circle cx="457.75" cy="576.17" r="1.6" fill="#c8102e"/>
<circle cx="464.96" cy="576.17" r="1.6" fill="#c8102e"/>
<rect x="493.8" y="503.04" width="2.9" height="2.9" fill="#0b4584"/>
<rect x="493.8" y="514.15" width="2.9" height="2.9" fill="#0b4584"/>
<rect x="493.8" y="528.57" width="2.9" height="2.9" fill="#0b4584"/>
<rect x="482.98" y="571.26" width="2.9" height="2.9" fill="#0b4584"/>
<rect x="488.03" y="569.82" width="2.9" height="2.9" fill="#0b4584"/>
<rect x="493.8" y="570.83" width="2.9" height="2.9" fill="#0b4584"/>
<rect x="498.85" y="570.4" width="2.9" height="2.9" fill="#0b4584"/>
<rect x="503.9" y="567.94" width="2.9" height="2.9" fill="#0b4584"/>
<rect x="503.9" y="572.27" width="2.9" height="2.9" fill="#0b4584"/>
<line x1="457.5" y1="560.45" x2="457.5" y2="577.3" stroke="#242424" stroke-width="1"/>
<line x1="452.45" y1="560.5" x2="463.05" y2="560.5" stroke="#242424" stroke-width="1"/>
<line x1="447" y1="568.5" x2="468.5" y2="568.5" stroke="#242424" stroke-width="1"/>
<line x1="495.5" y1="517.04" x2="495.5" y2="577.3" stroke="#242424" stroke-width="1"/>
<line x1="490.05" y1="517.5" x2="500.65" y2="517.5" stroke="#242424" stroke-width="1"/>
<line x1="484.6" y1="550.5" x2="506.1" y2="550.5" stroke="#242424" stroke-width="1"/>
<line x1="457.46" y1="533.5" x2="495.25" y2="533.5" stroke="#333" stroke-width="0.9"/>
<line x1="457.5" y1="532.75" x2="457.5" y2="537" stroke="#333" stroke-width="0.9"/>
<line x1="495.5" y1="532.75" x2="495.5" y2="537" stroke="#333" stroke-width="0.9"/>
<text x="475.81" y="531.3" font-size="7.95" text-anchor="middle" font-weight="normal" fill="#111">ns</text>
<line x1="438.75" y1="577.3" x2="513.65" y2="577.3" stroke="#242424" stroke-width="1.3"/>
<line x1="457.5" y1="577.3" x2="457.5" y2="580.1" stroke="#242424" stroke-width="1"/>
<line x1="495.5" y1="577.3" x2="495.5" y2="580.1" stroke="#242424" stroke-width="1"/>
<text x="457.75" y="588.7" font-size="7.35" text-anchor="middle" font-weight="normal" fill="#111">Control</text>
<text x="495.35" y="588.7" font-size="7.35" text-anchor="middle" font-weight="normal" fill="#111">Vaccine</text>
</svg></body></html>
